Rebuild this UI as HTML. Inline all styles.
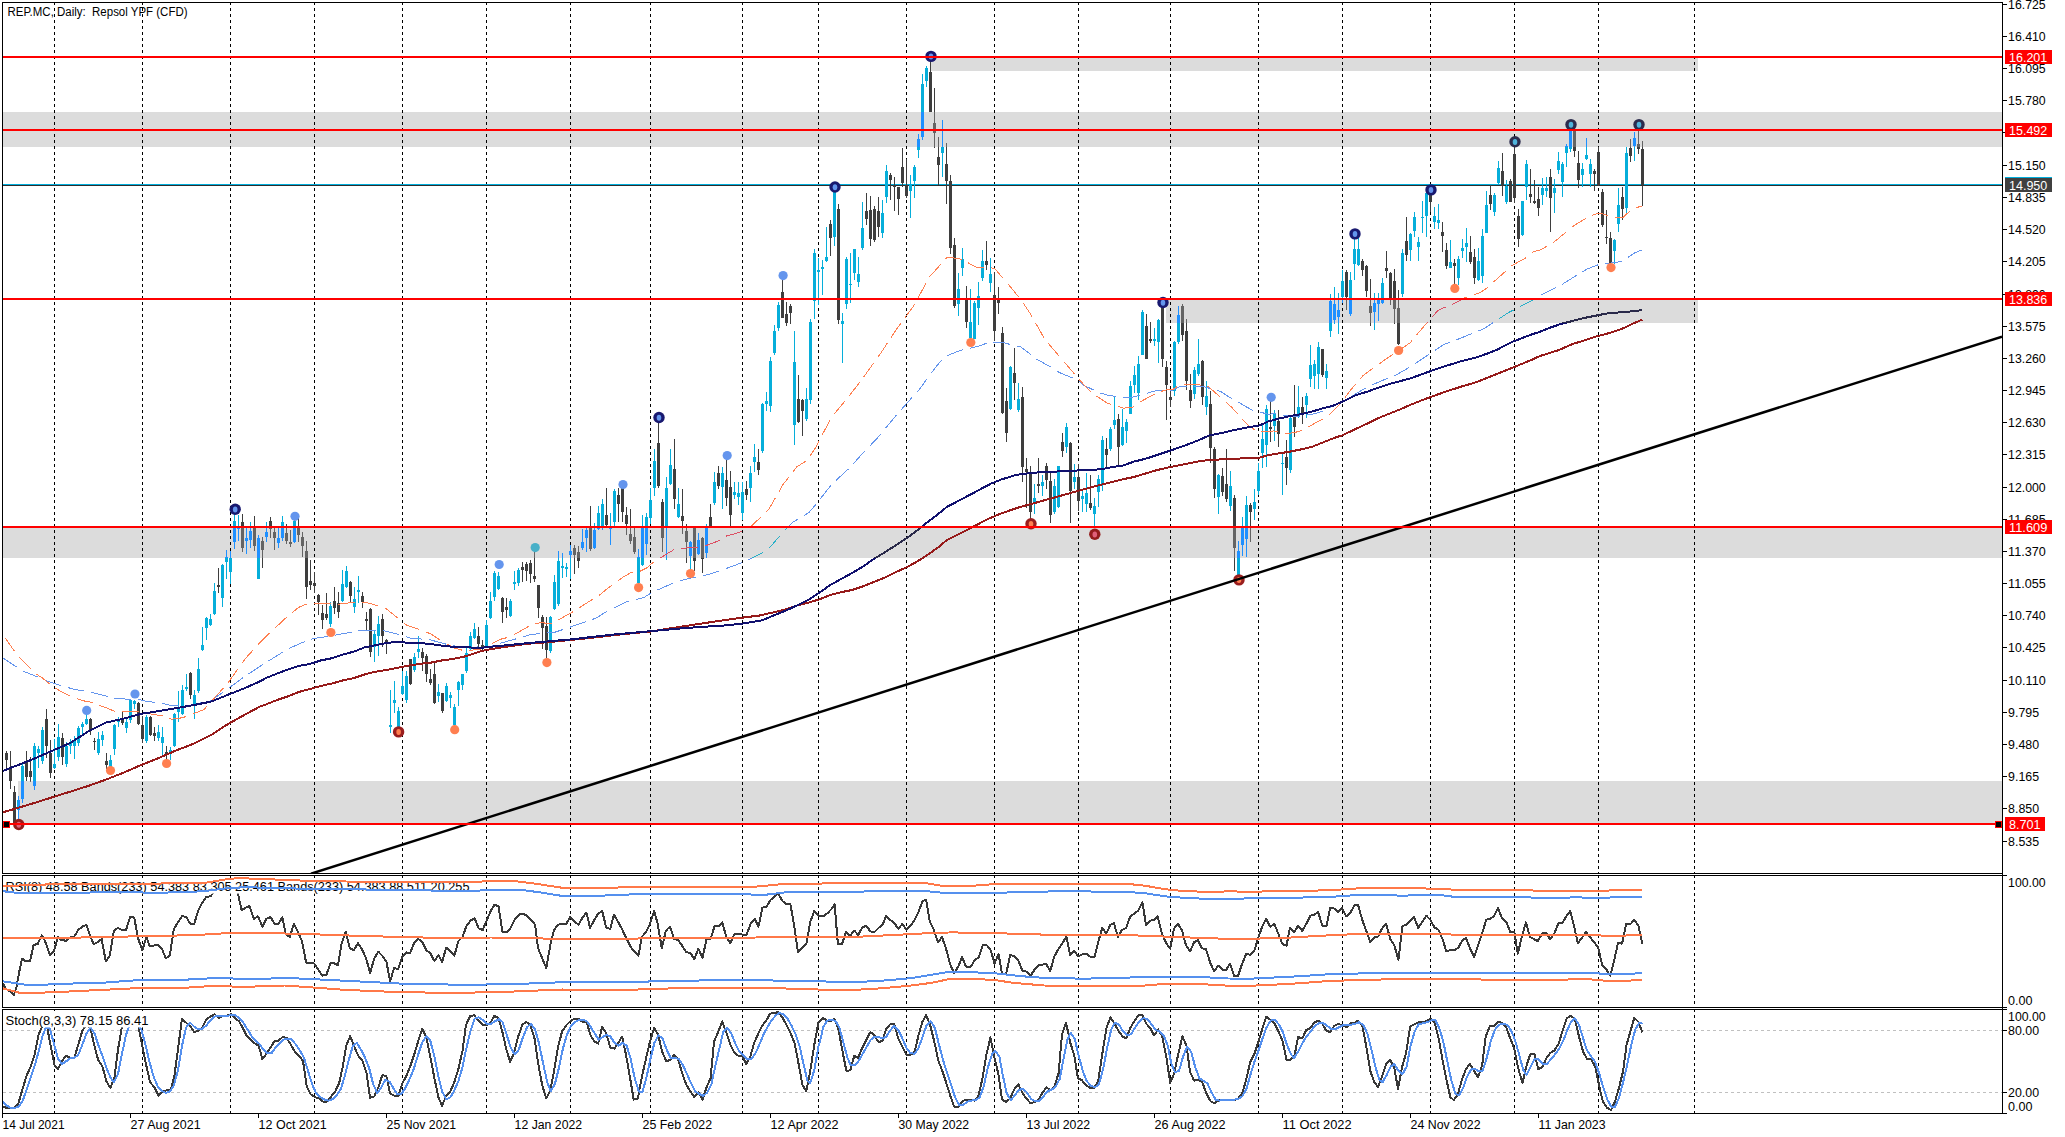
<!DOCTYPE html>
<html><head><meta charset="utf-8"><title>REP.MC Daily</title>
<style>html,body{margin:0;padding:0;background:#fff;overflow:hidden}svg{display:block}</style>
</head><body>
<svg width="2065" height="1137" viewBox="0 0 2065 1137" font-family="'Liberation Sans', sans-serif" font-size="12">
<rect x="0" y="0" width="2065" height="1137" fill="#fff"/>
<g shape-rendering="crispEdges">
<rect x="931" y="57" width="767" height="14" fill="#DCDCDC"/>
<rect x="3" y="112" width="1999" height="35" fill="#DCDCDC"/>
<rect x="1166" y="299" width="532" height="24" fill="#DCDCDC"/>
<rect x="3" y="527" width="1999" height="31" fill="#DCDCDC"/>
<rect x="18" y="781" width="1984" height="43" fill="#DCDCDC"/>
</g>
<g shape-rendering="crispEdges" stroke="#000" stroke-width="1" stroke-dasharray="3 3">
<line x1="54.5" y1="2" x2="54.5" y2="873"/>
<line x1="54.5" y1="875" x2="54.5" y2="1007"/>
<line x1="54.5" y1="1009" x2="54.5" y2="1113"/>
<line x1="142.5" y1="2" x2="142.5" y2="873"/>
<line x1="142.5" y1="875" x2="142.5" y2="1007"/>
<line x1="142.5" y1="1009" x2="142.5" y2="1113"/>
<line x1="230.5" y1="2" x2="230.5" y2="873"/>
<line x1="230.5" y1="875" x2="230.5" y2="1007"/>
<line x1="230.5" y1="1009" x2="230.5" y2="1113"/>
<line x1="314.5" y1="2" x2="314.5" y2="873"/>
<line x1="314.5" y1="875" x2="314.5" y2="1007"/>
<line x1="314.5" y1="1009" x2="314.5" y2="1113"/>
<line x1="402.5" y1="2" x2="402.5" y2="873"/>
<line x1="402.5" y1="875" x2="402.5" y2="1007"/>
<line x1="402.5" y1="1009" x2="402.5" y2="1113"/>
<line x1="486.5" y1="2" x2="486.5" y2="873"/>
<line x1="486.5" y1="875" x2="486.5" y2="1007"/>
<line x1="486.5" y1="1009" x2="486.5" y2="1113"/>
<line x1="570.5" y1="2" x2="570.5" y2="873"/>
<line x1="570.5" y1="875" x2="570.5" y2="1007"/>
<line x1="570.5" y1="1009" x2="570.5" y2="1113"/>
<line x1="650.5" y1="2" x2="650.5" y2="873"/>
<line x1="650.5" y1="875" x2="650.5" y2="1007"/>
<line x1="650.5" y1="1009" x2="650.5" y2="1113"/>
<line x1="742.5" y1="2" x2="742.5" y2="873"/>
<line x1="742.5" y1="875" x2="742.5" y2="1007"/>
<line x1="742.5" y1="1009" x2="742.5" y2="1113"/>
<line x1="818.5" y1="2" x2="818.5" y2="873"/>
<line x1="818.5" y1="875" x2="818.5" y2="1007"/>
<line x1="818.5" y1="1009" x2="818.5" y2="1113"/>
<line x1="906.5" y1="2" x2="906.5" y2="873"/>
<line x1="906.5" y1="875" x2="906.5" y2="1007"/>
<line x1="906.5" y1="1009" x2="906.5" y2="1113"/>
<line x1="994.5" y1="2" x2="994.5" y2="873"/>
<line x1="994.5" y1="875" x2="994.5" y2="1007"/>
<line x1="994.5" y1="1009" x2="994.5" y2="1113"/>
<line x1="1078.5" y1="2" x2="1078.5" y2="873"/>
<line x1="1078.5" y1="875" x2="1078.5" y2="1007"/>
<line x1="1078.5" y1="1009" x2="1078.5" y2="1113"/>
<line x1="1170.5" y1="2" x2="1170.5" y2="873"/>
<line x1="1170.5" y1="875" x2="1170.5" y2="1007"/>
<line x1="1170.5" y1="1009" x2="1170.5" y2="1113"/>
<line x1="1258.5" y1="2" x2="1258.5" y2="873"/>
<line x1="1258.5" y1="875" x2="1258.5" y2="1007"/>
<line x1="1258.5" y1="1009" x2="1258.5" y2="1113"/>
<line x1="1342.5" y1="2" x2="1342.5" y2="873"/>
<line x1="1342.5" y1="875" x2="1342.5" y2="1007"/>
<line x1="1342.5" y1="1009" x2="1342.5" y2="1113"/>
<line x1="1430.5" y1="2" x2="1430.5" y2="873"/>
<line x1="1430.5" y1="875" x2="1430.5" y2="1007"/>
<line x1="1430.5" y1="1009" x2="1430.5" y2="1113"/>
<line x1="1514.5" y1="2" x2="1514.5" y2="873"/>
<line x1="1514.5" y1="875" x2="1514.5" y2="1007"/>
<line x1="1514.5" y1="1009" x2="1514.5" y2="1113"/>
<line x1="1598.5" y1="2" x2="1598.5" y2="873"/>
<line x1="1598.5" y1="875" x2="1598.5" y2="1007"/>
<line x1="1598.5" y1="1009" x2="1598.5" y2="1113"/>
<line x1="1694.5" y1="2" x2="1694.5" y2="873"/>
<line x1="1694.5" y1="875" x2="1694.5" y2="1007"/>
<line x1="1694.5" y1="1009" x2="1694.5" y2="1113"/>
</g>
<g shape-rendering="crispEdges">
<rect x="3" y="184" width="1999" height="1" fill="#00AEDC"/>
<rect x="3" y="185" width="1999" height="1" fill="#2E2E2E"/>
</g>
<defs><clipPath id="zc">
<rect x="931" y="57" width="767" height="14"/>
<rect x="3" y="112" width="1999" height="35"/>
<rect x="1166" y="299" width="532" height="24"/>
<rect x="3" y="527" width="1999" height="31"/>
<rect x="18" y="781" width="1984" height="43"/>
</clipPath><clipPath id="mc"><rect x="3" y="3" width="1999" height="870"/></clipPath></defs>
<g clip-path="url(#mc)">
<g shape-rendering="crispEdges">
<path fill="#06AEDA" d="M18 796h1v29h-1zM17 800h3v10h-3zM22 763h1v40h-1zM21 766h3v33h-3zM34 743h1v47h-1zM33 746h3v40h-3zM38 746h1v22h-1zM37 749h3v4h-3zM42 727h1v37h-1zM41 730h3v31h-3zM54 739h1v30h-1zM53 764h3v4h-3zM58 724h1v37h-1zM57 737h3v20h-3zM66 742h1v25h-1zM65 746h3v18h-3zM70 739h1v15h-1zM69 742h3v4h-3zM74 736h1v23h-1zM73 740h3v6h-3zM78 726h1v20h-1zM77 728h3v15h-3zM82 722h1v13h-1zM81 724h3v3h-3zM86 714h1v11h-1zM85 719h3v5h-3zM98 732h1v23h-1zM97 739h3v14h-3zM102 731h1v15h-1zM101 735h3v5h-3zM110 755h1v12h-1zM109 760h3v7h-3zM114 724h1v31h-1zM113 725h3v24h-3zM118 717h1v10h-1zM117 721h3v1h-3zM126 717h1v16h-1zM125 722h3v6h-3zM130 699h1v24h-1zM129 700h3v20h-3zM134 700h1v9h-1zM133 701h3v3h-3zM146 715h1v28h-1zM145 717h3v24h-3zM158 725h1v16h-1zM157 732h3v6h-3zM162 727h1v28h-1zM161 737h3v6h-3zM170 747h1v13h-1zM169 750h3v3h-3zM174 713h1v34h-1zM173 714h3v32h-3zM178 691h1v31h-1zM177 708h3v4h-3zM182 685h1v30h-1zM181 690h3v24h-3zM186 674h1v17h-1zM185 687h3v2h-3zM194 690h1v29h-1zM193 695h3v11h-3zM198 658h1v35h-1zM197 669h3v22h-3zM202 627h1v24h-1zM201 645h3v5h-3zM206 617h1v23h-1zM205 618h3v10h-3zM210 614h1v12h-1zM209 619h3v6h-3zM214 583h1v32h-1zM213 591h3v23h-3zM222 564h1v43h-1zM221 565h3v33h-3zM226 550h1v29h-1zM225 557h3v5h-3zM230 551h1v33h-1zM229 558h3v14h-3zM234 514h1v35h-1zM233 521h3v21h-3zM238 515h1v26h-1zM237 527h3v2h-3zM246 526h1v28h-1zM245 538h3v3h-3zM250 522h1v26h-1zM249 531h3v9h-3zM258 535h1v44h-1zM257 538h3v41h-3zM266 522h1v20h-1zM265 532h3v5h-3zM278 528h1v20h-1zM277 538h3v5h-3zM282 516h1v25h-1zM281 522h3v16h-3zM294 520h1v23h-1zM293 521h3v21h-3zM330 602h1v25h-1zM329 606h3v18h-3zM342 570h1v32h-1zM341 584h3v17h-3zM346 566h1v22h-1zM345 571h3v16h-3zM354 587h1v26h-1zM353 599h3v8h-3zM358 576h1v27h-1zM357 590h3v2h-3zM374 630h1v32h-1zM373 634h3v13h-3zM378 616h1v40h-1zM377 624h3v12h-3zM390 690h1v43h-1zM389 725h3v2h-3zM394 681h1v32h-1zM393 700h3v3h-3zM398 707h1v21h-1zM397 711h3v16h-3zM402 671h1v24h-1zM401 686h3v8h-3zM406 671h1v32h-1zM405 676h3v24h-3zM414 653h1v19h-1zM413 657h3v13h-3zM418 636h1v22h-1zM417 649h3v3h-3zM438 684h1v18h-1zM437 692h3v4h-3zM446 683h1v19h-1zM445 686h3v15h-3zM450 692h1v16h-1zM449 695h3v3h-3zM454 704h1v22h-1zM453 707h3v18h-3zM458 681h1v25h-1zM457 682h3v8h-3zM462 674h1v16h-1zM461 674h3v11h-3zM466 647h1v26h-1zM465 653h3v18h-3zM470 632h1v18h-1zM469 636h3v13h-3zM474 623h1v16h-1zM473 629h3v9h-3zM486 620h1v28h-1zM485 625h3v22h-3zM490 592h1v27h-1zM489 601h3v17h-3zM494 571h1v30h-1zM493 573h3v24h-3zM498 572h1v18h-1zM497 576h3v13h-3zM510 599h1v18h-1zM509 601h3v15h-3zM514 571h1v19h-1zM513 582h3v2h-3zM518 568h1v18h-1zM517 570h3v13h-3zM550 616h1v37h-1zM549 617h3v34h-3zM554 575h1v35h-1zM553 582h3v27h-3zM558 551h1v55h-1zM557 561h3v43h-3zM562 553h1v25h-1zM561 566h3v2h-3zM566 563h1v14h-1zM565 567h3v2h-3zM570 545h1v34h-1zM569 551h3v4h-3zM582 529h1v21h-1zM581 542h3v6h-3zM586 528h1v24h-1zM585 530h3v8h-3zM594 523h1v26h-1zM593 530h3v18h-3zM598 506h1v24h-1zM597 513h3v16h-3zM602 499h1v31h-1zM601 504h3v22h-3zM610 513h1v32h-1zM609 527h3v2h-3zM614 489h1v37h-1zM613 491h3v31h-3zM638 549h1v35h-1zM637 557h3v26h-3zM642 515h1v51h-1zM641 527h3v38h-3zM646 513h1v42h-1zM645 517h3v27h-3zM650 488h1v36h-1zM649 500h3v18h-3zM654 449h1v47h-1zM653 461h3v27h-3zM666 477h1v83h-1zM665 488h3v38h-3zM670 449h1v36h-1zM669 465h3v19h-3zM678 488h1v30h-1zM677 504h3v13h-3zM690 541h1v31h-1zM689 542h3v14h-3zM698 533h1v22h-1zM697 540h3v14h-3zM706 524h1v34h-1zM705 526h3v27h-3zM714 472h1v33h-1zM713 482h3v21h-3zM722 467h1v42h-1zM721 473h3v14h-3zM734 482h1v17h-1zM733 492h3v3h-3zM738 482h1v23h-1zM737 493h3v4h-3zM742 482h1v38h-1zM741 492h3v21h-3zM750 466h1v36h-1zM749 473h3v15h-3zM754 444h1v28h-1zM753 457h3v5h-3zM762 403h1v50h-1zM761 404h3v47h-3zM766 392h1v19h-1zM765 401h3v3h-3zM770 357h1v55h-1zM769 361h3v45h-3zM774 325h1v30h-1zM773 331h3v22h-3zM778 302h1v29h-1zM777 305h3v23h-3zM794 331h1v114h-1zM793 362h3v63h-3zM806 388h1v33h-1zM805 399h3v20h-3zM810 319h1v85h-1zM809 322h3v78h-3zM814 249h1v70h-1zM813 253h3v48h-3zM818 258h1v47h-1zM817 270h3v2h-3zM822 260h1v35h-1zM821 267h3v2h-3zM826 227h1v35h-1zM825 257h3v4h-3zM834 190h1v56h-1zM833 191h3v46h-3zM842 313h1v50h-1zM841 321h3v3h-3zM846 257h1v52h-1zM845 259h3v45h-3zM850 253h1v50h-1zM849 284h3v1h-3zM854 249h1v31h-1zM853 249h3v24h-3zM858 257h1v30h-1zM857 274h3v8h-3zM862 202h1v48h-1zM861 228h3v20h-3zM882 200h1v38h-1zM881 213h3v20h-3zM886 165h1v38h-1zM885 171h3v26h-3zM910 175h1v43h-1zM909 185h3v6h-3zM914 165h1v33h-1zM913 167h3v14h-3zM918 134h1v24h-1zM917 139h3v11h-3zM922 74h1v66h-1zM921 84h3v53h-3zM926 66h1v21h-1zM925 68h3v13h-3zM942 120h1v57h-1zM941 147h3v6h-3zM958 273h1v43h-1zM957 289h3v15h-3zM962 248h1v28h-1zM961 259h3v9h-3zM970 289h1v50h-1zM969 322h3v16h-3zM974 301h1v38h-1zM973 303h3v36h-3zM978 282h1v43h-1zM977 296h3v12h-3zM982 250h1v31h-1zM981 261h3v17h-3zM990 258h1v34h-1zM989 274h3v9h-3zM1010 366h1v44h-1zM1009 367h3v42h-3zM1018 383h1v29h-1zM1017 399h3v11h-3zM1034 484h1v30h-1zM1033 498h3v6h-3zM1042 475h1v21h-1zM1041 482h3v4h-3zM1054 479h1v35h-1zM1053 486h3v26h-3zM1058 466h1v42h-1zM1057 466h3v41h-3zM1066 423h1v30h-1zM1065 427h3v20h-3zM1074 464h1v25h-1zM1073 477h3v5h-3zM1082 490h1v22h-1zM1081 496h3v3h-3zM1086 473h1v39h-1zM1085 493h3v11h-3zM1094 498h1v30h-1zM1093 506h3v8h-3zM1098 475h1v32h-1zM1097 479h3v13h-3zM1102 436h1v55h-1zM1101 440h3v45h-3zM1110 427h1v24h-1zM1109 429h3v20h-3zM1114 396h1v33h-1zM1113 420h3v5h-3zM1122 409h1v37h-1zM1121 427h3v18h-3zM1126 419h1v24h-1zM1125 422h3v9h-3zM1130 381h1v33h-1zM1129 386h3v28h-3zM1134 366h1v27h-1zM1133 375h3v10h-3zM1138 356h1v44h-1zM1137 364h3v29h-3zM1142 310h1v45h-1zM1141 312h3v43h-3zM1154 328h1v18h-1zM1153 339h3v2h-3zM1158 319h1v44h-1zM1157 320h3v22h-3zM1174 341h1v55h-1zM1173 342h3v49h-3zM1178 306h1v38h-1zM1177 315h3v27h-3zM1194 367h1v32h-1zM1193 370h3v24h-3zM1198 339h1v37h-1zM1197 364h3v10h-3zM1206 381h1v34h-1zM1205 396h3v11h-3zM1218 474h1v40h-1zM1217 475h3v22h-3zM1230 471h1v40h-1zM1229 486h3v20h-3zM1238 541h1v37h-1zM1237 551h3v26h-3zM1242 517h1v39h-1zM1241 528h3v17h-3zM1246 496h1v61h-1zM1245 505h3v34h-3zM1254 489h1v31h-1zM1253 502h3v7h-3zM1258 463h1v32h-1zM1257 471h3v20h-3zM1262 423h1v45h-1zM1261 439h3v14h-3zM1266 405h1v62h-1zM1265 409h3v36h-3zM1274 410h1v31h-1zM1273 414h3v12h-3zM1282 452h1v43h-1zM1281 463h3v1h-3zM1290 417h1v56h-1zM1289 418h3v52h-3zM1298 386h1v32h-1zM1297 407h3v9h-3zM1306 393h1v25h-1zM1305 396h3v9h-3zM1310 345h1v42h-1zM1309 365h3v14h-3zM1314 360h1v29h-1zM1313 364h3v12h-3zM1318 342h1v47h-1zM1317 347h3v27h-3zM1326 364h1v25h-1zM1325 371h3v7h-3zM1330 294h1v43h-1zM1329 301h3v30h-3zM1334 287h1v37h-1zM1333 304h3v16h-3zM1338 293h1v41h-1zM1337 310h3v7h-3zM1342 270h1v33h-1zM1341 281h3v16h-3zM1350 272h1v44h-1zM1349 280h3v34h-3zM1354 239h1v41h-1zM1353 249h3v15h-3zM1358 238h1v28h-1zM1357 249h3v16h-3zM1374 293h1v37h-1zM1373 303h3v9h-3zM1378 293h1v28h-1zM1377 300h3v4h-3zM1382 278h1v26h-1zM1381 283h3v20h-3zM1402 249h1v48h-1zM1401 253h3v41h-3zM1410 233h1v28h-1zM1409 234h3v16h-3zM1414 212h1v25h-1zM1413 217h3v14h-3zM1418 237h1v24h-1zM1417 242h3v5h-3zM1422 201h1v32h-1zM1421 217h3v1h-3zM1426 191h1v46h-1zM1425 193h3v23h-3zM1434 207h1v22h-1zM1433 216h3v6h-3zM1438 204h1v25h-1zM1437 220h3v3h-3zM1450 240h1v28h-1zM1449 262h3v6h-3zM1458 256h1v29h-1zM1457 259h3v19h-3zM1462 239h1v19h-1zM1461 248h3v3h-3zM1466 228h1v34h-1zM1465 243h3v4h-3zM1478 248h1v33h-1zM1477 261h3v19h-3zM1482 229h1v54h-1zM1481 236h3v40h-3zM1486 191h1v42h-1zM1485 205h3v28h-3zM1494 193h1v23h-1zM1493 195h3v17h-3zM1498 161h1v23h-1zM1497 168h3v15h-3zM1506 180h1v24h-1zM1505 186h3v16h-3zM1522 201h1v35h-1zM1521 201h3v34h-3zM1526 160h1v40h-1zM1525 164h3v23h-3zM1542 178h1v27h-1zM1541 188h3v7h-3zM1546 177h1v20h-1zM1545 188h3v3h-3zM1554 179h1v34h-1zM1553 188h3v5h-3zM1558 152h1v22h-1zM1557 161h3v9h-3zM1562 162h1v35h-1zM1561 164h3v18h-3zM1566 144h1v23h-1zM1565 146h3v7h-3zM1570 130h1v22h-1zM1569 131h3v18h-3zM1582 163h1v24h-1zM1581 169h3v6h-3zM1586 138h1v22h-1zM1585 155h3v4h-3zM1590 159h1v28h-1zM1589 164h3v10h-3zM1614 239h1v25h-1zM1613 240h3v11h-3zM1618 188h1v44h-1zM1617 205h3v19h-3zM1626 147h1v67h-1zM1625 153h3v55h-3zM1634 132h1v29h-1zM1633 138h3v8h-3z"/>
<path fill="#3E3E3E" d="M6 751h1v20h-1zM5 753h3v7h-3zM10 751h1v38h-1zM9 768h3v13h-3zM14 786h1v38h-1zM13 792h3v31h-3zM26 751h1v30h-1zM25 761h3v16h-3zM30 757h1v25h-1zM29 771h3v6h-3zM46 709h1v49h-1zM45 719h3v27h-3zM50 740h1v38h-1zM49 753h3v20h-3zM62 733h1v32h-1zM61 738h3v19h-3zM90 718h1v17h-1zM89 719h3v12h-3zM94 738h1v12h-1zM93 741h3v1h-3zM106 753h1v16h-1zM105 761h3v4h-3zM122 712h1v13h-1zM121 718h3v5h-3zM138 702h1v23h-1zM137 703h3v21h-3zM142 716h1v27h-1zM141 725h3v14h-3zM150 716h1v20h-1zM149 717h3v18h-3zM154 727h1v14h-1zM153 733h3v3h-3zM166 746h1v14h-1zM165 752h3v2h-3zM190 672h1v27h-1zM189 673h3v22h-3zM218 568h1v25h-1zM217 585h3v2h-3zM242 514h1v38h-1zM241 522h3v26h-3zM254 516h1v35h-1zM253 527h3v19h-3zM262 537h1v31h-1zM261 541h3v9h-3zM270 517h1v21h-1zM269 521h3v8h-3zM274 528h1v22h-1zM273 532h3v6h-3zM286 524h1v20h-1zM285 533h3v8h-3zM290 530h1v17h-1zM289 542h3v2h-3zM298 518h1v24h-1zM297 528h3v7h-3zM302 532h1v25h-1zM301 537h3v9h-3zM306 541h1v58h-1zM305 551h3v36h-3zM310 560h1v30h-1zM309 581h3v4h-3zM314 572h1v21h-1zM313 583h3v3h-3zM318 594h1v21h-1zM317 595h3v7h-3zM322 605h1v24h-1zM321 613h3v7h-3zM326 593h1v27h-1zM325 614h3v4h-3zM334 587h1v27h-1zM333 601h3v7h-3zM338 592h1v26h-1zM337 603h3v9h-3zM350 581h1v22h-1zM349 582h3v14h-3zM362 592h1v16h-1zM361 596h3v6h-3zM366 612h1v19h-1zM365 619h3v2h-3zM370 608h1v49h-1zM369 609h3v43h-3zM382 614h1v33h-1zM381 619h3v17h-3zM386 639h1v15h-1zM385 640h3v2h-3zM410 659h1v26h-1zM409 659h3v25h-3zM422 648h1v23h-1zM421 652h3v6h-3zM426 654h1v28h-1zM425 656h3v18h-3zM430 669h1v16h-1zM429 679h3v4h-3zM434 662h1v42h-1zM433 674h3v29h-3zM442 693h1v20h-1zM441 693h3v18h-3zM478 627h1v23h-1zM477 636h3v8h-3zM482 640h1v11h-1zM481 645h3v2h-3zM502 597h1v26h-1zM501 598h3v14h-3zM506 598h1v20h-1zM505 607h3v3h-3zM522 562h1v20h-1zM521 567h3v3h-3zM526 562h1v19h-1zM525 564h3v7h-3zM530 560h1v23h-1zM529 563h3v11h-3zM534 550h1v32h-1zM533 576h3v3h-3zM538 585h1v33h-1zM537 585h3v23h-3zM542 615h1v34h-1zM541 617h3v11h-3zM546 617h1v41h-1zM545 626h3v24h-3zM574 545h1v29h-1zM573 548h3v7h-3zM578 546h1v22h-1zM577 552h3v9h-3zM590 506h1v45h-1zM589 527h3v22h-3zM606 488h1v38h-1zM605 515h3v10h-3zM618 488h1v34h-1zM617 495h3v9h-3zM622 486h1v36h-1zM621 488h3v24h-3zM626 507h1v28h-1zM625 515h3v9h-3zM630 509h1v35h-1zM629 534h3v7h-3zM634 526h1v28h-1zM633 537h3v15h-3zM658 423h1v65h-1zM657 443h3v43h-3zM662 499h1v53h-1zM661 502h3v36h-3zM674 439h1v70h-1zM673 469h3v30h-3zM682 489h1v45h-1zM681 516h3v5h-3zM686 524h1v39h-1zM685 531h3v11h-3zM694 526h1v45h-1zM693 528h3v33h-3zM702 537h1v36h-1zM701 538h3v21h-3zM710 504h1v23h-1zM709 517h3v9h-3zM718 466h1v23h-1zM717 473h3v13h-3zM726 460h1v46h-1zM725 480h3v18h-3zM730 471h1v55h-1zM729 487h3v28h-3zM746 481h1v19h-1zM745 489h3v6h-3zM758 449h1v26h-1zM757 462h3v8h-3zM782 280h1v38h-1zM781 292h3v26h-3zM786 302h1v24h-1zM785 314h3v9h-3zM790 304h1v20h-1zM789 306h3v7h-3zM798 375h1v48h-1zM797 399h3v23h-3zM802 399h1v37h-1zM801 400h3v11h-3zM830 220h1v36h-1zM829 224h3v14h-3zM838 204h1v120h-1zM837 209h3v111h-3zM866 193h1v32h-1zM865 211h3v8h-3zM870 196h1v50h-1zM869 210h3v29h-3zM874 206h1v36h-1zM873 209h3v31h-3zM878 197h1v40h-1zM877 211h3v16h-3zM890 173h1v27h-1zM889 175h3v5h-3zM894 177h1v34h-1zM893 185h3v2h-3zM898 187h1v28h-1zM897 187h3v12h-3zM902 148h1v39h-1zM901 167h3v16h-3zM906 159h1v39h-1zM905 185h3v11h-3zM930 59h1v53h-1zM929 72h3v40h-3zM934 88h1v60h-1zM933 123h3v10h-3zM938 137h1v48h-1zM937 157h3v8h-3zM946 143h1v61h-1zM945 164h3v17h-3zM950 175h1v79h-1zM949 181h3v67h-3zM954 238h1v70h-1zM953 245h3v61h-3zM966 286h1v42h-1zM965 300h3v22h-3zM986 241h1v29h-1zM985 261h3v4h-3zM994 272h1v69h-1zM993 295h3v36h-3zM998 287h1v27h-1zM997 298h3v5h-3zM1002 327h1v87h-1zM1001 333h3v80h-3zM1006 388h1v54h-1zM1005 401h3v32h-3zM1014 348h1v52h-1zM1013 373h3v10h-3zM1022 387h1v95h-1zM1021 397h3v70h-3zM1026 458h1v50h-1zM1025 469h3v3h-3zM1030 466h1v53h-1zM1029 474h3v38h-3zM1038 458h1v35h-1zM1037 484h3v2h-3zM1046 463h1v26h-1zM1045 466h3v14h-3zM1050 471h1v52h-1zM1049 481h3v34h-3zM1062 433h1v24h-1zM1061 442h3v9h-3zM1070 442h1v81h-1zM1069 443h3v48h-3zM1078 464h1v47h-1zM1077 477h3v24h-3zM1090 475h1v35h-1zM1089 503h3v5h-3zM1106 438h1v31h-1zM1105 449h3v6h-3zM1118 414h1v51h-1zM1117 419h3v28h-3zM1146 314h1v45h-1zM1145 326h3v33h-3zM1150 322h1v21h-1zM1149 339h3v2h-3zM1162 298h1v69h-1zM1161 305h3v54h-3zM1166 361h1v59h-1zM1165 367h3v18h-3zM1170 389h1v18h-1zM1169 397h3v3h-3zM1182 304h1v37h-1zM1181 306h3v29h-3zM1186 319h1v71h-1zM1185 331h3v50h-3zM1190 374h1v34h-1zM1189 390h3v11h-3zM1202 360h1v45h-1zM1201 361h3v36h-3zM1210 391h1v72h-1zM1209 404h3v44h-3zM1214 447h1v51h-1zM1213 449h3v40h-3zM1222 468h1v28h-1zM1221 476h3v16h-3zM1226 449h1v53h-1zM1225 484h3v15h-3zM1234 495h1v76h-1zM1233 498h3v50h-3zM1250 503h1v39h-1zM1249 505h3v7h-3zM1270 401h1v41h-1zM1269 427h3v2h-3zM1278 410h1v37h-1zM1277 421h3v13h-3zM1286 440h1v45h-1zM1285 457h3v11h-3zM1294 385h1v52h-1zM1293 414h3v13h-3zM1302 397h1v27h-1zM1301 407h3v7h-3zM1322 349h1v28h-1zM1321 349h3v26h-3zM1346 270h1v40h-1zM1345 272h3v25h-3zM1362 259h1v17h-1zM1361 261h3v9h-3zM1366 265h1v32h-1zM1365 266h3v25h-3zM1370 279h1v47h-1zM1369 306h3v7h-3zM1386 251h1v27h-1zM1385 268h3v3h-3zM1390 272h1v33h-1zM1389 273h3v27h-3zM1394 269h1v55h-1zM1393 281h3v28h-3zM1398 290h1v55h-1zM1397 308h3v36h-3zM1406 217h1v44h-1zM1405 241h3v14h-3zM1430 187h1v25h-1zM1429 192h3v10h-3zM1442 222h1v30h-1zM1441 232h3v4h-3zM1446 243h1v26h-1zM1445 250h3v16h-3zM1454 259h1v27h-1zM1453 263h3v3h-3zM1470 236h1v28h-1zM1469 252h3v10h-3zM1474 249h1v35h-1zM1473 257h3v21h-3zM1490 185h1v25h-1zM1489 195h3v9h-3zM1502 153h1v43h-1zM1501 171h3v15h-3zM1510 179h1v23h-1zM1509 181h3v21h-3zM1514 147h1v56h-1zM1513 154h3v44h-3zM1518 209h1v38h-1zM1517 216h3v23h-3zM1530 169h1v34h-1zM1529 194h3v3h-3zM1534 180h1v24h-1zM1533 201h3v2h-3zM1538 187h1v29h-1zM1537 199h3v9h-3zM1550 169h1v63h-1zM1549 177h3v21h-3zM1574 131h1v26h-1zM1573 131h3v20h-3zM1578 151h1v37h-1zM1577 163h3v17h-3zM1594 169h1v22h-1zM1593 171h3v3h-3zM1598 147h1v39h-1zM1597 152h3v33h-3zM1602 189h1v38h-1zM1601 192h3v33h-3zM1606 210h1v34h-1zM1605 237h3v1h-3zM1610 232h1v32h-1zM1609 238h3v25h-3zM1622 187h1v33h-1zM1621 197h3v12h-3zM1630 139h1v23h-1zM1629 148h3v8h-3zM1638 130h1v24h-1zM1637 144h3v5h-3zM1642 141h1v65h-1zM1641 149h3v36h-3z"/>
</g>
<polyline fill="none" stroke="#6495ED" stroke-width="1" stroke-dasharray="17 7" shape-rendering="crispEdges" points="2.6,657.6 19.3,669.0 26.4,672.5 42.2,678.7 50.1,682.2 67.7,687.5 73.9,689.3 91.5,692.4 98.5,694.2 114.3,698.0 121.4,698.9 139.0,699.5 146.0,701.2 163.6,703.7 170.6,705.4 186.5,706.0 211.1,700.7 235.7,683.1 242.7,677.8 260.0,666.4 266.0,662.6 283.6,651.6 290.2,647.9 307.8,640.2 314.4,638.4 332.0,635.8 340.8,634.0 360.6,630.6 380.4,630.3 387.0,631.4 403.5,635.8 410.1,638.0 430.4,639.9 452.4,645.9 475.0,646.8 486.4,647.7 504.0,642.2 523.8,636.7 530.4,634.5 548.0,632.9 554.6,632.3 571.1,626.8 578.8,624.1 596.4,618.0 603.0,613.6 620.6,604.8 627.2,601.5 643.7,597.7 651.4,592.7 667.9,585.4 674.5,582.3 691.0,577.9 698.7,577.3 719.0,571.2 740.0,563.4 746.2,561.0 763.8,552.2 770.4,546.7 785.8,529.1 792.4,522.5 808.9,512.6 815.5,504.9 832.0,484.0 851.8,465.9 858.4,458.0 877.6,437.8 897.4,413.9 918.9,389.9 937.0,365.5 945.3,356.4 956.3,352.0 962.9,349.8 980.0,345.8 987.7,342.8 1003.1,342.4 1011.9,345.0 1020.7,346.8 1028.4,352.7 1035.0,358.2 1052.6,368.1 1059.2,372.5 1076.8,379.7 1084.5,385.7 1099.9,392.9 1107.6,395.1 1124.1,397.8 1131.8,397.3 1148.3,392.9 1156.0,390.7 1172.5,390.1 1179.1,386.8 1196.7,386.3 1204.4,386.8 1220.9,391.6 1227.5,396.0 1244.0,405.5 1251.7,409.9 1260.0,412.1 1268.0,414.2 1274.6,413.8 1291.1,416.4 1298.8,416.4 1314.2,413.8 1323.0,411.2 1339.5,402.8 1347.2,398.8 1363.7,389.2 1371.4,385.2 1388.3,378.0 1395.4,375.3 1412.5,365.6 1419.1,361.0 1437.1,348.9 1443.7,344.5 1460.2,338.4 1467.9,335.1 1484.4,328.5 1491.0,324.1 1508.9,312.3 1515.0,309.4 1532.6,300.0 1539.5,295.9 1556.6,287.4 1563.2,283.7 1580.8,272.7 1587.4,268.9 1601.1,263.6 1614.9,262.8 1621.5,261.0 1628.1,257.3 1634.7,252.9 1641.9,250.0"/>
<polyline fill="none" stroke="#FF7F50" stroke-width="1" stroke-dasharray="17 7" shape-rendering="crispEdges" points="4.8,637.4 16.7,654.5 35.2,673.4 42.2,677.8 52.8,686.6 59.8,690.7 66.8,694.5 82.7,700.7 89.7,701.9 107.3,708.2 114.3,711.2 131.0,711.2 139.0,711.2 154.8,714.8 161.8,715.6 171.5,719.2 179.4,718.3 186.5,716.5 204.0,709.5 211.1,701.6 227.8,683.1 245.4,658.5 262.4,639.9 289.1,614.9 299.0,607.2 305.6,604.3 312.2,603.2 318.8,603.4 337.5,604.3 354.0,602.3 365.0,602.2 384.8,607.6 398.0,618.2 406.8,625.2 420.0,629.6 431.0,634.0 442.0,641.3 454.1,647.9 461.8,650.1 472.8,650.1 482.0,648.8 490.8,644.4 499.6,639.5 510.6,636.7 530.9,625.1 541.4,622.4 549.6,624.0 557.9,620.2 575.5,610.3 582.1,605.9 599.7,594.9 606.3,589.4 623.9,576.6 630.5,572.9 638.2,572.2 647.0,567.8 653.6,561.9 675.0,549.0 695.4,547.1 702.0,547.1 719.6,540.5 726.2,536.1 740.0,532.2 751.7,525.8 768.7,509.5 782.5,485.3 796.8,466.8 807.2,460.3 815.5,447.7 831.4,417.4 845.2,400.8 861.1,380.6 881.5,352.0 896.4,329.3 914.7,304.4 929.0,277.4 946.6,257.8 953.2,257.8 962.0,259.3 970.8,264.4 977.4,267.7 988.4,267.0 995.0,268.8 1013.0,290.0 1021.8,301.0 1030.6,314.2 1044.9,339.5 1064.7,362.6 1085.6,386.8 1092.2,393.4 1107.6,403.3 1115.3,405.5 1123.0,408.1 1131.8,407.7 1139.5,402.2 1153.8,394.5 1164.8,390.1 1173.6,389.0 1180.2,384.6 1186.8,384.1 1207.1,385.5 1231.3,406.9 1247.3,424.6 1257.5,431.9 1273.5,431.0 1280.1,431.8 1287.8,433.6 1297.7,431.8 1304.3,429.2 1321.9,419.3 1328.5,415.6 1342.8,401.0 1349.4,391.4 1362.6,376.0 1370.3,370.2 1387.9,357.7 1394.2,353.8 1410.7,342.3 1417.3,334.0 1431.6,317.5 1438.2,310.2 1455.8,302.7 1464.6,297.7 1480.0,292.6 1486.6,288.2 1503.1,273.5 1511.3,266.0 1526.5,257.4 1533.1,251.9 1540.0,250.0 1551.1,244.1 1557.7,239.0 1574.2,225.4 1580.8,221.4 1591.8,215.5 1598.4,213.3 1605.0,214.4 1611.6,217.7 1622.6,217.7 1629.2,211.7 1635.8,207.8 1641.9,206.0"/>
<polyline fill="none" stroke="#961A1A" stroke-width="2" stroke-linejoin="round" shape-rendering="crispEdges" points="2.6,812.4 17.6,808.0 35.2,802.7 52.8,797.1 70.4,791.6 88.0,786.0 105.5,779.8 123.1,772.8 140.7,765.2 158.3,758.2 175.9,750.5 193.5,743.8 211.1,735.0 228.7,723.6 246.3,713.9 260.0,706.5 266.0,704.4 277.0,700.0 288.0,696.3 299.0,691.9 310.0,689.0 321.0,685.9 332.0,683.5 343.0,680.4 354.0,678.0 365.0,674.3 376.0,671.6 387.0,669.9 398.0,667.7 409.0,665.5 420.0,663.9 431.0,662.6 442.0,660.4 453.0,658.9 464.0,656.7 480.0,651.6 486.4,649.9 504.0,647.0 526.0,643.9 548.0,642.2 570.0,640.0 592.0,637.8 614.0,635.1 636.0,632.9 650.5,631.6 680.0,626.8 702.0,623.5 720.0,620.8 742.0,617.7 759.6,615.5 775.0,612.0 786.0,609.4 797.0,605.4 808.0,602.8 819.0,599.5 830.0,595.1 841.0,592.2 852.0,590.0 863.0,586.3 874.0,581.9 885.0,577.5 896.0,572.0 907.0,567.1 918.0,561.0 929.0,553.9 940.0,546.0 946.6,540.1 962.0,532.4 973.0,526.9 984.0,521.0 991.0,517.7 1001.0,513.5 1017.4,507.8 1035.0,502.9 1057.0,496.8 1079.0,490.6 1101.0,484.7 1123.0,479.2 1134.0,477.0 1145.0,473.7 1156.0,470.4 1167.0,467.7 1178.0,465.5 1189.0,463.3 1200.0,461.1 1211.0,459.8 1222.0,459.4 1244.0,458.3 1260.0,457.6 1268.0,455.1 1279.0,453.4 1290.0,451.6 1301.0,449.4 1312.0,446.8 1323.0,442.4 1334.0,438.0 1342.3,435.3 1356.0,428.8 1367.0,423.7 1378.0,418.2 1389.0,413.8 1400.0,409.4 1411.0,404.6 1422.0,400.2 1433.0,396.2 1444.0,392.2 1462.3,386.3 1475.6,382.4 1486.6,378.0 1497.6,373.6 1511.5,368.1 1524.0,363.0 1532.8,359.3 1540.0,356.0 1558.8,350.1 1572.0,344.2 1583.0,340.9 1594.0,337.1 1607.2,333.6 1616.0,331.0 1624.8,327.7 1633.6,323.3 1642.4,319.5"/>
<polyline fill="none" stroke="#10106E" stroke-width="2" stroke-linejoin="round" shape-rendering="crispEdges" points="2.6,771.0 17.6,765.2 35.2,758.2 52.8,750.5 70.4,742.9 88.0,731.5 105.5,722.7 123.1,718.8 140.7,713.9 158.3,711.2 175.9,708.2 193.5,705.1 211.1,701.6 228.7,694.5 246.3,687.5 260.0,681.3 266.0,678.0 277.0,673.6 288.0,669.4 299.0,665.9 310.0,663.9 321.0,660.4 332.0,658.2 343.0,654.5 354.0,651.6 365.0,647.2 376.0,645.2 387.0,642.8 398.0,641.9 409.0,642.8 420.0,643.0 431.0,644.1 442.0,645.7 453.0,646.8 464.0,647.2 480.0,647.9 486.4,647.2 526.0,643.3 570.0,639.5 614.0,634.5 650.5,631.2 680.0,628.5 702.0,626.8 720.0,625.9 742.0,623.7 761.8,620.4 775.0,614.9 786.0,610.5 797.0,605.4 808.0,600.1 819.0,592.9 830.0,585.2 841.0,579.0 852.0,573.1 863.0,566.5 874.0,558.8 885.0,552.2 896.0,545.1 907.0,537.9 918.0,529.7 929.0,521.0 940.0,512.6 946.6,507.1 962.0,499.0 973.0,493.2 984.0,487.3 991.0,483.6 1001.0,479.6 1016.3,474.8 1035.0,472.6 1057.0,471.5 1079.0,470.4 1101.0,469.3 1112.0,467.1 1123.0,465.5 1134.0,461.6 1145.0,458.9 1156.0,455.4 1167.0,451.7 1178.0,447.9 1189.0,444.0 1200.0,439.6 1208.8,435.6 1222.0,433.0 1233.0,430.3 1244.0,428.1 1260.0,425.3 1268.0,421.5 1279.0,418.6 1290.0,416.0 1301.0,414.2 1312.0,411.6 1323.0,408.3 1334.0,405.4 1342.3,401.7 1356.0,395.1 1367.0,391.8 1378.0,387.8 1389.0,384.1 1400.0,381.2 1411.0,378.2 1422.0,374.2 1433.0,370.2 1444.0,366.5 1462.3,360.9 1475.6,357.7 1486.6,353.8 1497.6,349.4 1511.5,342.2 1524.0,337.3 1532.8,334.0 1540.0,331.8 1550.0,327.7 1561.0,323.9 1572.0,321.1 1583.0,318.2 1594.0,316.0 1607.2,313.4 1620.4,312.3 1633.6,311.2 1642.4,310.1"/>
<g clip-path="url(#zc)">
<g shape-rendering="crispEdges">
<path fill="#1E90FF" d="M18 796h1v29h-1zM17 800h3v10h-3zM22 763h1v40h-1zM21 766h3v33h-3zM34 743h1v47h-1zM33 746h3v40h-3zM38 746h1v22h-1zM37 749h3v4h-3zM42 727h1v37h-1zM41 730h3v31h-3zM54 739h1v30h-1zM53 764h3v4h-3zM58 724h1v37h-1zM57 737h3v20h-3zM66 742h1v25h-1zM65 746h3v18h-3zM70 739h1v15h-1zM69 742h3v4h-3zM74 736h1v23h-1zM73 740h3v6h-3zM78 726h1v20h-1zM77 728h3v15h-3zM82 722h1v13h-1zM81 724h3v3h-3zM86 714h1v11h-1zM85 719h3v5h-3zM98 732h1v23h-1zM97 739h3v14h-3zM102 731h1v15h-1zM101 735h3v5h-3zM110 755h1v12h-1zM109 760h3v7h-3zM114 724h1v31h-1zM113 725h3v24h-3zM118 717h1v10h-1zM117 721h3v1h-3zM126 717h1v16h-1zM125 722h3v6h-3zM130 699h1v24h-1zM129 700h3v20h-3zM134 700h1v9h-1zM133 701h3v3h-3zM146 715h1v28h-1zM145 717h3v24h-3zM158 725h1v16h-1zM157 732h3v6h-3zM162 727h1v28h-1zM161 737h3v6h-3zM170 747h1v13h-1zM169 750h3v3h-3zM174 713h1v34h-1zM173 714h3v32h-3zM178 691h1v31h-1zM177 708h3v4h-3zM182 685h1v30h-1zM181 690h3v24h-3zM186 674h1v17h-1zM185 687h3v2h-3zM194 690h1v29h-1zM193 695h3v11h-3zM198 658h1v35h-1zM197 669h3v22h-3zM202 627h1v24h-1zM201 645h3v5h-3zM206 617h1v23h-1zM205 618h3v10h-3zM210 614h1v12h-1zM209 619h3v6h-3zM214 583h1v32h-1zM213 591h3v23h-3zM222 564h1v43h-1zM221 565h3v33h-3zM226 550h1v29h-1zM225 557h3v5h-3zM230 551h1v33h-1zM229 558h3v14h-3zM234 514h1v35h-1zM233 521h3v21h-3zM238 515h1v26h-1zM237 527h3v2h-3zM246 526h1v28h-1zM245 538h3v3h-3zM250 522h1v26h-1zM249 531h3v9h-3zM258 535h1v44h-1zM257 538h3v41h-3zM266 522h1v20h-1zM265 532h3v5h-3zM278 528h1v20h-1zM277 538h3v5h-3zM282 516h1v25h-1zM281 522h3v16h-3zM294 520h1v23h-1zM293 521h3v21h-3zM330 602h1v25h-1zM329 606h3v18h-3zM342 570h1v32h-1zM341 584h3v17h-3zM346 566h1v22h-1zM345 571h3v16h-3zM354 587h1v26h-1zM353 599h3v8h-3zM358 576h1v27h-1zM357 590h3v2h-3zM374 630h1v32h-1zM373 634h3v13h-3zM378 616h1v40h-1zM377 624h3v12h-3zM390 690h1v43h-1zM389 725h3v2h-3zM394 681h1v32h-1zM393 700h3v3h-3zM398 707h1v21h-1zM397 711h3v16h-3zM402 671h1v24h-1zM401 686h3v8h-3zM406 671h1v32h-1zM405 676h3v24h-3zM414 653h1v19h-1zM413 657h3v13h-3zM418 636h1v22h-1zM417 649h3v3h-3zM438 684h1v18h-1zM437 692h3v4h-3zM446 683h1v19h-1zM445 686h3v15h-3zM450 692h1v16h-1zM449 695h3v3h-3zM454 704h1v22h-1zM453 707h3v18h-3zM458 681h1v25h-1zM457 682h3v8h-3zM462 674h1v16h-1zM461 674h3v11h-3zM466 647h1v26h-1zM465 653h3v18h-3zM470 632h1v18h-1zM469 636h3v13h-3zM474 623h1v16h-1zM473 629h3v9h-3zM486 620h1v28h-1zM485 625h3v22h-3zM490 592h1v27h-1zM489 601h3v17h-3zM494 571h1v30h-1zM493 573h3v24h-3zM498 572h1v18h-1zM497 576h3v13h-3zM510 599h1v18h-1zM509 601h3v15h-3zM514 571h1v19h-1zM513 582h3v2h-3zM518 568h1v18h-1zM517 570h3v13h-3zM550 616h1v37h-1zM549 617h3v34h-3zM554 575h1v35h-1zM553 582h3v27h-3zM558 551h1v55h-1zM557 561h3v43h-3zM562 553h1v25h-1zM561 566h3v2h-3zM566 563h1v14h-1zM565 567h3v2h-3zM570 545h1v34h-1zM569 551h3v4h-3zM582 529h1v21h-1zM581 542h3v6h-3zM586 528h1v24h-1zM585 530h3v8h-3zM594 523h1v26h-1zM593 530h3v18h-3zM598 506h1v24h-1zM597 513h3v16h-3zM602 499h1v31h-1zM601 504h3v22h-3zM610 513h1v32h-1zM609 527h3v2h-3zM614 489h1v37h-1zM613 491h3v31h-3zM638 549h1v35h-1zM637 557h3v26h-3zM642 515h1v51h-1zM641 527h3v38h-3zM646 513h1v42h-1zM645 517h3v27h-3zM650 488h1v36h-1zM649 500h3v18h-3zM654 449h1v47h-1zM653 461h3v27h-3zM666 477h1v83h-1zM665 488h3v38h-3zM670 449h1v36h-1zM669 465h3v19h-3zM678 488h1v30h-1zM677 504h3v13h-3zM690 541h1v31h-1zM689 542h3v14h-3zM698 533h1v22h-1zM697 540h3v14h-3zM706 524h1v34h-1zM705 526h3v27h-3zM714 472h1v33h-1zM713 482h3v21h-3zM722 467h1v42h-1zM721 473h3v14h-3zM734 482h1v17h-1zM733 492h3v3h-3zM738 482h1v23h-1zM737 493h3v4h-3zM742 482h1v38h-1zM741 492h3v21h-3zM750 466h1v36h-1zM749 473h3v15h-3zM754 444h1v28h-1zM753 457h3v5h-3zM762 403h1v50h-1zM761 404h3v47h-3zM766 392h1v19h-1zM765 401h3v3h-3zM770 357h1v55h-1zM769 361h3v45h-3zM774 325h1v30h-1zM773 331h3v22h-3zM778 302h1v29h-1zM777 305h3v23h-3zM794 331h1v114h-1zM793 362h3v63h-3zM806 388h1v33h-1zM805 399h3v20h-3zM810 319h1v85h-1zM809 322h3v78h-3zM814 249h1v70h-1zM813 253h3v48h-3zM818 258h1v47h-1zM817 270h3v2h-3zM822 260h1v35h-1zM821 267h3v2h-3zM826 227h1v35h-1zM825 257h3v4h-3zM834 190h1v56h-1zM833 191h3v46h-3zM842 313h1v50h-1zM841 321h3v3h-3zM846 257h1v52h-1zM845 259h3v45h-3zM850 253h1v50h-1zM849 284h3v1h-3zM854 249h1v31h-1zM853 249h3v24h-3zM858 257h1v30h-1zM857 274h3v8h-3zM862 202h1v48h-1zM861 228h3v20h-3zM882 200h1v38h-1zM881 213h3v20h-3zM886 165h1v38h-1zM885 171h3v26h-3zM910 175h1v43h-1zM909 185h3v6h-3zM914 165h1v33h-1zM913 167h3v14h-3zM918 134h1v24h-1zM917 139h3v11h-3zM922 74h1v66h-1zM921 84h3v53h-3zM926 66h1v21h-1zM925 68h3v13h-3zM942 120h1v57h-1zM941 147h3v6h-3zM958 273h1v43h-1zM957 289h3v15h-3zM962 248h1v28h-1zM961 259h3v9h-3zM970 289h1v50h-1zM969 322h3v16h-3zM974 301h1v38h-1zM973 303h3v36h-3zM978 282h1v43h-1zM977 296h3v12h-3zM982 250h1v31h-1zM981 261h3v17h-3zM990 258h1v34h-1zM989 274h3v9h-3zM1010 366h1v44h-1zM1009 367h3v42h-3zM1018 383h1v29h-1zM1017 399h3v11h-3zM1034 484h1v30h-1zM1033 498h3v6h-3zM1042 475h1v21h-1zM1041 482h3v4h-3zM1054 479h1v35h-1zM1053 486h3v26h-3zM1058 466h1v42h-1zM1057 466h3v41h-3zM1066 423h1v30h-1zM1065 427h3v20h-3zM1074 464h1v25h-1zM1073 477h3v5h-3zM1082 490h1v22h-1zM1081 496h3v3h-3zM1086 473h1v39h-1zM1085 493h3v11h-3zM1094 498h1v30h-1zM1093 506h3v8h-3zM1098 475h1v32h-1zM1097 479h3v13h-3zM1102 436h1v55h-1zM1101 440h3v45h-3zM1110 427h1v24h-1zM1109 429h3v20h-3zM1114 396h1v33h-1zM1113 420h3v5h-3zM1122 409h1v37h-1zM1121 427h3v18h-3zM1126 419h1v24h-1zM1125 422h3v9h-3zM1130 381h1v33h-1zM1129 386h3v28h-3zM1134 366h1v27h-1zM1133 375h3v10h-3zM1138 356h1v44h-1zM1137 364h3v29h-3zM1142 310h1v45h-1zM1141 312h3v43h-3zM1154 328h1v18h-1zM1153 339h3v2h-3zM1158 319h1v44h-1zM1157 320h3v22h-3zM1174 341h1v55h-1zM1173 342h3v49h-3zM1178 306h1v38h-1zM1177 315h3v27h-3zM1194 367h1v32h-1zM1193 370h3v24h-3zM1198 339h1v37h-1zM1197 364h3v10h-3zM1206 381h1v34h-1zM1205 396h3v11h-3zM1218 474h1v40h-1zM1217 475h3v22h-3zM1230 471h1v40h-1zM1229 486h3v20h-3zM1238 541h1v37h-1zM1237 551h3v26h-3zM1242 517h1v39h-1zM1241 528h3v17h-3zM1246 496h1v61h-1zM1245 505h3v34h-3zM1254 489h1v31h-1zM1253 502h3v7h-3zM1258 463h1v32h-1zM1257 471h3v20h-3zM1262 423h1v45h-1zM1261 439h3v14h-3zM1266 405h1v62h-1zM1265 409h3v36h-3zM1274 410h1v31h-1zM1273 414h3v12h-3zM1282 452h1v43h-1zM1281 463h3v1h-3zM1290 417h1v56h-1zM1289 418h3v52h-3zM1298 386h1v32h-1zM1297 407h3v9h-3zM1306 393h1v25h-1zM1305 396h3v9h-3zM1310 345h1v42h-1zM1309 365h3v14h-3zM1314 360h1v29h-1zM1313 364h3v12h-3zM1318 342h1v47h-1zM1317 347h3v27h-3zM1326 364h1v25h-1zM1325 371h3v7h-3zM1330 294h1v43h-1zM1329 301h3v30h-3zM1334 287h1v37h-1zM1333 304h3v16h-3zM1338 293h1v41h-1zM1337 310h3v7h-3zM1342 270h1v33h-1zM1341 281h3v16h-3zM1350 272h1v44h-1zM1349 280h3v34h-3zM1354 239h1v41h-1zM1353 249h3v15h-3zM1358 238h1v28h-1zM1357 249h3v16h-3zM1374 293h1v37h-1zM1373 303h3v9h-3zM1378 293h1v28h-1zM1377 300h3v4h-3zM1382 278h1v26h-1zM1381 283h3v20h-3zM1402 249h1v48h-1zM1401 253h3v41h-3zM1410 233h1v28h-1zM1409 234h3v16h-3zM1414 212h1v25h-1zM1413 217h3v14h-3zM1418 237h1v24h-1zM1417 242h3v5h-3zM1422 201h1v32h-1zM1421 217h3v1h-3zM1426 191h1v46h-1zM1425 193h3v23h-3zM1434 207h1v22h-1zM1433 216h3v6h-3zM1438 204h1v25h-1zM1437 220h3v3h-3zM1450 240h1v28h-1zM1449 262h3v6h-3zM1458 256h1v29h-1zM1457 259h3v19h-3zM1462 239h1v19h-1zM1461 248h3v3h-3zM1466 228h1v34h-1zM1465 243h3v4h-3zM1478 248h1v33h-1zM1477 261h3v19h-3zM1482 229h1v54h-1zM1481 236h3v40h-3zM1486 191h1v42h-1zM1485 205h3v28h-3zM1494 193h1v23h-1zM1493 195h3v17h-3zM1498 161h1v23h-1zM1497 168h3v15h-3zM1506 180h1v24h-1zM1505 186h3v16h-3zM1522 201h1v35h-1zM1521 201h3v34h-3zM1526 160h1v40h-1zM1525 164h3v23h-3zM1542 178h1v27h-1zM1541 188h3v7h-3zM1546 177h1v20h-1zM1545 188h3v3h-3zM1554 179h1v34h-1zM1553 188h3v5h-3zM1558 152h1v22h-1zM1557 161h3v9h-3zM1562 162h1v35h-1zM1561 164h3v18h-3zM1566 144h1v23h-1zM1565 146h3v7h-3zM1570 130h1v22h-1zM1569 131h3v18h-3zM1582 163h1v24h-1zM1581 169h3v6h-3zM1586 138h1v22h-1zM1585 155h3v4h-3zM1590 159h1v28h-1zM1589 164h3v10h-3zM1614 239h1v25h-1zM1613 240h3v11h-3zM1618 188h1v44h-1zM1617 205h3v19h-3zM1626 147h1v67h-1zM1625 153h3v55h-3zM1634 132h1v29h-1zM1633 138h3v8h-3z"/>
<path fill="#646464" d="M6 751h1v20h-1zM5 753h3v7h-3zM10 751h1v38h-1zM9 768h3v13h-3zM14 786h1v38h-1zM13 792h3v31h-3zM26 751h1v30h-1zM25 761h3v16h-3zM30 757h1v25h-1zM29 771h3v6h-3zM46 709h1v49h-1zM45 719h3v27h-3zM50 740h1v38h-1zM49 753h3v20h-3zM62 733h1v32h-1zM61 738h3v19h-3zM90 718h1v17h-1zM89 719h3v12h-3zM94 738h1v12h-1zM93 741h3v1h-3zM106 753h1v16h-1zM105 761h3v4h-3zM122 712h1v13h-1zM121 718h3v5h-3zM138 702h1v23h-1zM137 703h3v21h-3zM142 716h1v27h-1zM141 725h3v14h-3zM150 716h1v20h-1zM149 717h3v18h-3zM154 727h1v14h-1zM153 733h3v3h-3zM166 746h1v14h-1zM165 752h3v2h-3zM190 672h1v27h-1zM189 673h3v22h-3zM218 568h1v25h-1zM217 585h3v2h-3zM242 514h1v38h-1zM241 522h3v26h-3zM254 516h1v35h-1zM253 527h3v19h-3zM262 537h1v31h-1zM261 541h3v9h-3zM270 517h1v21h-1zM269 521h3v8h-3zM274 528h1v22h-1zM273 532h3v6h-3zM286 524h1v20h-1zM285 533h3v8h-3zM290 530h1v17h-1zM289 542h3v2h-3zM298 518h1v24h-1zM297 528h3v7h-3zM302 532h1v25h-1zM301 537h3v9h-3zM306 541h1v58h-1zM305 551h3v36h-3zM310 560h1v30h-1zM309 581h3v4h-3zM314 572h1v21h-1zM313 583h3v3h-3zM318 594h1v21h-1zM317 595h3v7h-3zM322 605h1v24h-1zM321 613h3v7h-3zM326 593h1v27h-1zM325 614h3v4h-3zM334 587h1v27h-1zM333 601h3v7h-3zM338 592h1v26h-1zM337 603h3v9h-3zM350 581h1v22h-1zM349 582h3v14h-3zM362 592h1v16h-1zM361 596h3v6h-3zM366 612h1v19h-1zM365 619h3v2h-3zM370 608h1v49h-1zM369 609h3v43h-3zM382 614h1v33h-1zM381 619h3v17h-3zM386 639h1v15h-1zM385 640h3v2h-3zM410 659h1v26h-1zM409 659h3v25h-3zM422 648h1v23h-1zM421 652h3v6h-3zM426 654h1v28h-1zM425 656h3v18h-3zM430 669h1v16h-1zM429 679h3v4h-3zM434 662h1v42h-1zM433 674h3v29h-3zM442 693h1v20h-1zM441 693h3v18h-3zM478 627h1v23h-1zM477 636h3v8h-3zM482 640h1v11h-1zM481 645h3v2h-3zM502 597h1v26h-1zM501 598h3v14h-3zM506 598h1v20h-1zM505 607h3v3h-3zM522 562h1v20h-1zM521 567h3v3h-3zM526 562h1v19h-1zM525 564h3v7h-3zM530 560h1v23h-1zM529 563h3v11h-3zM534 550h1v32h-1zM533 576h3v3h-3zM538 585h1v33h-1zM537 585h3v23h-3zM542 615h1v34h-1zM541 617h3v11h-3zM546 617h1v41h-1zM545 626h3v24h-3zM574 545h1v29h-1zM573 548h3v7h-3zM578 546h1v22h-1zM577 552h3v9h-3zM590 506h1v45h-1zM589 527h3v22h-3zM606 488h1v38h-1zM605 515h3v10h-3zM618 488h1v34h-1zM617 495h3v9h-3zM622 486h1v36h-1zM621 488h3v24h-3zM626 507h1v28h-1zM625 515h3v9h-3zM630 509h1v35h-1zM629 534h3v7h-3zM634 526h1v28h-1zM633 537h3v15h-3zM658 423h1v65h-1zM657 443h3v43h-3zM662 499h1v53h-1zM661 502h3v36h-3zM674 439h1v70h-1zM673 469h3v30h-3zM682 489h1v45h-1zM681 516h3v5h-3zM686 524h1v39h-1zM685 531h3v11h-3zM694 526h1v45h-1zM693 528h3v33h-3zM702 537h1v36h-1zM701 538h3v21h-3zM710 504h1v23h-1zM709 517h3v9h-3zM718 466h1v23h-1zM717 473h3v13h-3zM726 460h1v46h-1zM725 480h3v18h-3zM730 471h1v55h-1zM729 487h3v28h-3zM746 481h1v19h-1zM745 489h3v6h-3zM758 449h1v26h-1zM757 462h3v8h-3zM782 280h1v38h-1zM781 292h3v26h-3zM786 302h1v24h-1zM785 314h3v9h-3zM790 304h1v20h-1zM789 306h3v7h-3zM798 375h1v48h-1zM797 399h3v23h-3zM802 399h1v37h-1zM801 400h3v11h-3zM830 220h1v36h-1zM829 224h3v14h-3zM838 204h1v120h-1zM837 209h3v111h-3zM866 193h1v32h-1zM865 211h3v8h-3zM870 196h1v50h-1zM869 210h3v29h-3zM874 206h1v36h-1zM873 209h3v31h-3zM878 197h1v40h-1zM877 211h3v16h-3zM890 173h1v27h-1zM889 175h3v5h-3zM894 177h1v34h-1zM893 185h3v2h-3zM898 187h1v28h-1zM897 187h3v12h-3zM902 148h1v39h-1zM901 167h3v16h-3zM906 159h1v39h-1zM905 185h3v11h-3zM930 59h1v53h-1zM929 72h3v40h-3zM934 88h1v60h-1zM933 123h3v10h-3zM938 137h1v48h-1zM937 157h3v8h-3zM946 143h1v61h-1zM945 164h3v17h-3zM950 175h1v79h-1zM949 181h3v67h-3zM954 238h1v70h-1zM953 245h3v61h-3zM966 286h1v42h-1zM965 300h3v22h-3zM986 241h1v29h-1zM985 261h3v4h-3zM994 272h1v69h-1zM993 295h3v36h-3zM998 287h1v27h-1zM997 298h3v5h-3zM1002 327h1v87h-1zM1001 333h3v80h-3zM1006 388h1v54h-1zM1005 401h3v32h-3zM1014 348h1v52h-1zM1013 373h3v10h-3zM1022 387h1v95h-1zM1021 397h3v70h-3zM1026 458h1v50h-1zM1025 469h3v3h-3zM1030 466h1v53h-1zM1029 474h3v38h-3zM1038 458h1v35h-1zM1037 484h3v2h-3zM1046 463h1v26h-1zM1045 466h3v14h-3zM1050 471h1v52h-1zM1049 481h3v34h-3zM1062 433h1v24h-1zM1061 442h3v9h-3zM1070 442h1v81h-1zM1069 443h3v48h-3zM1078 464h1v47h-1zM1077 477h3v24h-3zM1090 475h1v35h-1zM1089 503h3v5h-3zM1106 438h1v31h-1zM1105 449h3v6h-3zM1118 414h1v51h-1zM1117 419h3v28h-3zM1146 314h1v45h-1zM1145 326h3v33h-3zM1150 322h1v21h-1zM1149 339h3v2h-3zM1162 298h1v69h-1zM1161 305h3v54h-3zM1166 361h1v59h-1zM1165 367h3v18h-3zM1170 389h1v18h-1zM1169 397h3v3h-3zM1182 304h1v37h-1zM1181 306h3v29h-3zM1186 319h1v71h-1zM1185 331h3v50h-3zM1190 374h1v34h-1zM1189 390h3v11h-3zM1202 360h1v45h-1zM1201 361h3v36h-3zM1210 391h1v72h-1zM1209 404h3v44h-3zM1214 447h1v51h-1zM1213 449h3v40h-3zM1222 468h1v28h-1zM1221 476h3v16h-3zM1226 449h1v53h-1zM1225 484h3v15h-3zM1234 495h1v76h-1zM1233 498h3v50h-3zM1250 503h1v39h-1zM1249 505h3v7h-3zM1270 401h1v41h-1zM1269 427h3v2h-3zM1278 410h1v37h-1zM1277 421h3v13h-3zM1286 440h1v45h-1zM1285 457h3v11h-3zM1294 385h1v52h-1zM1293 414h3v13h-3zM1302 397h1v27h-1zM1301 407h3v7h-3zM1322 349h1v28h-1zM1321 349h3v26h-3zM1346 270h1v40h-1zM1345 272h3v25h-3zM1362 259h1v17h-1zM1361 261h3v9h-3zM1366 265h1v32h-1zM1365 266h3v25h-3zM1370 279h1v47h-1zM1369 306h3v7h-3zM1386 251h1v27h-1zM1385 268h3v3h-3zM1390 272h1v33h-1zM1389 273h3v27h-3zM1394 269h1v55h-1zM1393 281h3v28h-3zM1398 290h1v55h-1zM1397 308h3v36h-3zM1406 217h1v44h-1zM1405 241h3v14h-3zM1430 187h1v25h-1zM1429 192h3v10h-3zM1442 222h1v30h-1zM1441 232h3v4h-3zM1446 243h1v26h-1zM1445 250h3v16h-3zM1454 259h1v27h-1zM1453 263h3v3h-3zM1470 236h1v28h-1zM1469 252h3v10h-3zM1474 249h1v35h-1zM1473 257h3v21h-3zM1490 185h1v25h-1zM1489 195h3v9h-3zM1502 153h1v43h-1zM1501 171h3v15h-3zM1510 179h1v23h-1zM1509 181h3v21h-3zM1514 147h1v56h-1zM1513 154h3v44h-3zM1518 209h1v38h-1zM1517 216h3v23h-3zM1530 169h1v34h-1zM1529 194h3v3h-3zM1534 180h1v24h-1zM1533 201h3v2h-3zM1538 187h1v29h-1zM1537 199h3v9h-3zM1550 169h1v63h-1zM1549 177h3v21h-3zM1574 131h1v26h-1zM1573 131h3v20h-3zM1578 151h1v37h-1zM1577 163h3v17h-3zM1594 169h1v22h-1zM1593 171h3v3h-3zM1598 147h1v39h-1zM1597 152h3v33h-3zM1602 189h1v38h-1zM1601 192h3v33h-3zM1606 210h1v34h-1zM1605 237h3v1h-3zM1610 232h1v32h-1zM1609 238h3v25h-3zM1622 187h1v33h-1zM1621 197h3v12h-3zM1630 139h1v23h-1zM1629 148h3v8h-3zM1638 130h1v24h-1zM1637 144h3v5h-3zM1642 141h1v65h-1zM1641 149h3v36h-3z"/>
</g>
<polyline fill="none" stroke="#28AFC8" stroke-width="1" stroke-dasharray="17 7" shape-rendering="crispEdges" points="2.6,657.6 19.3,669.0 26.4,672.5 42.2,678.7 50.1,682.2 67.7,687.5 73.9,689.3 91.5,692.4 98.5,694.2 114.3,698.0 121.4,698.9 139.0,699.5 146.0,701.2 163.6,703.7 170.6,705.4 186.5,706.0 211.1,700.7 235.7,683.1 242.7,677.8 260.0,666.4 266.0,662.6 283.6,651.6 290.2,647.9 307.8,640.2 314.4,638.4 332.0,635.8 340.8,634.0 360.6,630.6 380.4,630.3 387.0,631.4 403.5,635.8 410.1,638.0 430.4,639.9 452.4,645.9 475.0,646.8 486.4,647.7 504.0,642.2 523.8,636.7 530.4,634.5 548.0,632.9 554.6,632.3 571.1,626.8 578.8,624.1 596.4,618.0 603.0,613.6 620.6,604.8 627.2,601.5 643.7,597.7 651.4,592.7 667.9,585.4 674.5,582.3 691.0,577.9 698.7,577.3 719.0,571.2 740.0,563.4 746.2,561.0 763.8,552.2 770.4,546.7 785.8,529.1 792.4,522.5 808.9,512.6 815.5,504.9 832.0,484.0 851.8,465.9 858.4,458.0 877.6,437.8 897.4,413.9 918.9,389.9 937.0,365.5 945.3,356.4 956.3,352.0 962.9,349.8 980.0,345.8 987.7,342.8 1003.1,342.4 1011.9,345.0 1020.7,346.8 1028.4,352.7 1035.0,358.2 1052.6,368.1 1059.2,372.5 1076.8,379.7 1084.5,385.7 1099.9,392.9 1107.6,395.1 1124.1,397.8 1131.8,397.3 1148.3,392.9 1156.0,390.7 1172.5,390.1 1179.1,386.8 1196.7,386.3 1204.4,386.8 1220.9,391.6 1227.5,396.0 1244.0,405.5 1251.7,409.9 1260.0,412.1 1268.0,414.2 1274.6,413.8 1291.1,416.4 1298.8,416.4 1314.2,413.8 1323.0,411.2 1339.5,402.8 1347.2,398.8 1363.7,389.2 1371.4,385.2 1388.3,378.0 1395.4,375.3 1412.5,365.6 1419.1,361.0 1437.1,348.9 1443.7,344.5 1460.2,338.4 1467.9,335.1 1484.4,328.5 1491.0,324.1 1508.9,312.3 1515.0,309.4 1532.6,300.0 1539.5,295.9 1556.6,287.4 1563.2,283.7 1580.8,272.7 1587.4,268.9 1601.1,263.6 1614.9,262.8 1621.5,261.0 1628.1,257.3 1634.7,252.9 1641.9,250.0"/>
<polyline fill="none" stroke="#DC5064" stroke-width="1" stroke-dasharray="17 7" shape-rendering="crispEdges" points="4.8,637.4 16.7,654.5 35.2,673.4 42.2,677.8 52.8,686.6 59.8,690.7 66.8,694.5 82.7,700.7 89.7,701.9 107.3,708.2 114.3,711.2 131.0,711.2 139.0,711.2 154.8,714.8 161.8,715.6 171.5,719.2 179.4,718.3 186.5,716.5 204.0,709.5 211.1,701.6 227.8,683.1 245.4,658.5 262.4,639.9 289.1,614.9 299.0,607.2 305.6,604.3 312.2,603.2 318.8,603.4 337.5,604.3 354.0,602.3 365.0,602.2 384.8,607.6 398.0,618.2 406.8,625.2 420.0,629.6 431.0,634.0 442.0,641.3 454.1,647.9 461.8,650.1 472.8,650.1 482.0,648.8 490.8,644.4 499.6,639.5 510.6,636.7 530.9,625.1 541.4,622.4 549.6,624.0 557.9,620.2 575.5,610.3 582.1,605.9 599.7,594.9 606.3,589.4 623.9,576.6 630.5,572.9 638.2,572.2 647.0,567.8 653.6,561.9 675.0,549.0 695.4,547.1 702.0,547.1 719.6,540.5 726.2,536.1 740.0,532.2 751.7,525.8 768.7,509.5 782.5,485.3 796.8,466.8 807.2,460.3 815.5,447.7 831.4,417.4 845.2,400.8 861.1,380.6 881.5,352.0 896.4,329.3 914.7,304.4 929.0,277.4 946.6,257.8 953.2,257.8 962.0,259.3 970.8,264.4 977.4,267.7 988.4,267.0 995.0,268.8 1013.0,290.0 1021.8,301.0 1030.6,314.2 1044.9,339.5 1064.7,362.6 1085.6,386.8 1092.2,393.4 1107.6,403.3 1115.3,405.5 1123.0,408.1 1131.8,407.7 1139.5,402.2 1153.8,394.5 1164.8,390.1 1173.6,389.0 1180.2,384.6 1186.8,384.1 1207.1,385.5 1231.3,406.9 1247.3,424.6 1257.5,431.9 1273.5,431.0 1280.1,431.8 1287.8,433.6 1297.7,431.8 1304.3,429.2 1321.9,419.3 1328.5,415.6 1342.8,401.0 1349.4,391.4 1362.6,376.0 1370.3,370.2 1387.9,357.7 1394.2,353.8 1410.7,342.3 1417.3,334.0 1431.6,317.5 1438.2,310.2 1455.8,302.7 1464.6,297.7 1480.0,292.6 1486.6,288.2 1503.1,273.5 1511.3,266.0 1526.5,257.4 1533.1,251.9 1540.0,250.0 1551.1,244.1 1557.7,239.0 1574.2,225.4 1580.8,221.4 1591.8,215.5 1598.4,213.3 1605.0,214.4 1611.6,217.7 1622.6,217.7 1629.2,211.7 1635.8,207.8 1641.9,206.0"/>
<polyline fill="none" stroke="#961A1A" stroke-width="2" stroke-linejoin="round" shape-rendering="crispEdges" points="2.6,812.4 17.6,808.0 35.2,802.7 52.8,797.1 70.4,791.6 88.0,786.0 105.5,779.8 123.1,772.8 140.7,765.2 158.3,758.2 175.9,750.5 193.5,743.8 211.1,735.0 228.7,723.6 246.3,713.9 260.0,706.5 266.0,704.4 277.0,700.0 288.0,696.3 299.0,691.9 310.0,689.0 321.0,685.9 332.0,683.5 343.0,680.4 354.0,678.0 365.0,674.3 376.0,671.6 387.0,669.9 398.0,667.7 409.0,665.5 420.0,663.9 431.0,662.6 442.0,660.4 453.0,658.9 464.0,656.7 480.0,651.6 486.4,649.9 504.0,647.0 526.0,643.9 548.0,642.2 570.0,640.0 592.0,637.8 614.0,635.1 636.0,632.9 650.5,631.6 680.0,626.8 702.0,623.5 720.0,620.8 742.0,617.7 759.6,615.5 775.0,612.0 786.0,609.4 797.0,605.4 808.0,602.8 819.0,599.5 830.0,595.1 841.0,592.2 852.0,590.0 863.0,586.3 874.0,581.9 885.0,577.5 896.0,572.0 907.0,567.1 918.0,561.0 929.0,553.9 940.0,546.0 946.6,540.1 962.0,532.4 973.0,526.9 984.0,521.0 991.0,517.7 1001.0,513.5 1017.4,507.8 1035.0,502.9 1057.0,496.8 1079.0,490.6 1101.0,484.7 1123.0,479.2 1134.0,477.0 1145.0,473.7 1156.0,470.4 1167.0,467.7 1178.0,465.5 1189.0,463.3 1200.0,461.1 1211.0,459.8 1222.0,459.4 1244.0,458.3 1260.0,457.6 1268.0,455.1 1279.0,453.4 1290.0,451.6 1301.0,449.4 1312.0,446.8 1323.0,442.4 1334.0,438.0 1342.3,435.3 1356.0,428.8 1367.0,423.7 1378.0,418.2 1389.0,413.8 1400.0,409.4 1411.0,404.6 1422.0,400.2 1433.0,396.2 1444.0,392.2 1462.3,386.3 1475.6,382.4 1486.6,378.0 1497.6,373.6 1511.5,368.1 1524.0,363.0 1532.8,359.3 1540.0,356.0 1558.8,350.1 1572.0,344.2 1583.0,340.9 1594.0,337.1 1607.2,333.6 1616.0,331.0 1624.8,327.7 1633.6,323.3 1642.4,319.5"/>
<polyline fill="none" stroke="#2A2A4A" stroke-width="2" stroke-linejoin="round" shape-rendering="crispEdges" points="2.6,771.0 17.6,765.2 35.2,758.2 52.8,750.5 70.4,742.9 88.0,731.5 105.5,722.7 123.1,718.8 140.7,713.9 158.3,711.2 175.9,708.2 193.5,705.1 211.1,701.6 228.7,694.5 246.3,687.5 260.0,681.3 266.0,678.0 277.0,673.6 288.0,669.4 299.0,665.9 310.0,663.9 321.0,660.4 332.0,658.2 343.0,654.5 354.0,651.6 365.0,647.2 376.0,645.2 387.0,642.8 398.0,641.9 409.0,642.8 420.0,643.0 431.0,644.1 442.0,645.7 453.0,646.8 464.0,647.2 480.0,647.9 486.4,647.2 526.0,643.3 570.0,639.5 614.0,634.5 650.5,631.2 680.0,628.5 702.0,626.8 720.0,625.9 742.0,623.7 761.8,620.4 775.0,614.9 786.0,610.5 797.0,605.4 808.0,600.1 819.0,592.9 830.0,585.2 841.0,579.0 852.0,573.1 863.0,566.5 874.0,558.8 885.0,552.2 896.0,545.1 907.0,537.9 918.0,529.7 929.0,521.0 940.0,512.6 946.6,507.1 962.0,499.0 973.0,493.2 984.0,487.3 991.0,483.6 1001.0,479.6 1016.3,474.8 1035.0,472.6 1057.0,471.5 1079.0,470.4 1101.0,469.3 1112.0,467.1 1123.0,465.5 1134.0,461.6 1145.0,458.9 1156.0,455.4 1167.0,451.7 1178.0,447.9 1189.0,444.0 1200.0,439.6 1208.8,435.6 1222.0,433.0 1233.0,430.3 1244.0,428.1 1260.0,425.3 1268.0,421.5 1279.0,418.6 1290.0,416.0 1301.0,414.2 1312.0,411.6 1323.0,408.3 1334.0,405.4 1342.3,401.7 1356.0,395.1 1367.0,391.8 1378.0,387.8 1389.0,384.1 1400.0,381.2 1411.0,378.2 1422.0,374.2 1433.0,370.2 1444.0,366.5 1462.3,360.9 1475.6,357.7 1486.6,353.8 1497.6,349.4 1511.5,342.2 1524.0,337.3 1532.8,334.0 1540.0,331.8 1550.0,327.7 1561.0,323.9 1572.0,321.1 1583.0,318.2 1594.0,316.0 1607.2,313.4 1620.4,312.3 1633.6,311.2 1642.4,310.1"/>
</g>
<circle cx="18.8" cy="824.5" r="5.7" fill="#941C1C"/><ellipse cx="18.8" cy="824.7" rx="2.3" ry="3" fill="#E0607A"/>
<circle cx="86.7" cy="710.4" r="4.6" fill="#6495ED"/>
<circle cx="110.5" cy="770.5" r="4.6" fill="#FF7F50"/>
<circle cx="135" cy="694" r="4.6" fill="#6495ED"/>
<circle cx="166.6" cy="763.5" r="4.6" fill="#FF7F50"/>
<circle cx="235.2" cy="509.3" r="5.7" fill="#191970"/><ellipse cx="235.2" cy="509.5" rx="2.3" ry="3" fill="#6495ED"/>
<circle cx="295" cy="516.3" r="4.6" fill="#6495ED"/>
<circle cx="330.9" cy="632.5" r="4.6" fill="#FF7F50"/>
<circle cx="398.6" cy="731.9" r="5.7" fill="#9A1E1E"/><ellipse cx="398.6" cy="732.1" rx="2.3" ry="3" fill="#FF7F50"/>
<circle cx="454.7" cy="729.7" r="4.6" fill="#FF7F50"/>
<circle cx="499.2" cy="564.5" r="4.6" fill="#6495ED"/>
<circle cx="535.2" cy="547.6" r="4.6" fill="#48B0C8"/>
<circle cx="546.9" cy="662.6" r="4.6" fill="#FF7F50"/>
<circle cx="623" cy="484.5" r="4.6" fill="#6495ED"/>
<circle cx="638.6" cy="587.6" r="4.6" fill="#FF7F50"/>
<circle cx="659" cy="417.5" r="5.7" fill="#191970"/><ellipse cx="659" cy="417.7" rx="2.3" ry="3" fill="#6495ED"/>
<circle cx="690.5" cy="573.5" r="4.6" fill="#FF7F50"/>
<circle cx="727.2" cy="455.6" r="4.6" fill="#6495ED"/>
<circle cx="783.1" cy="275.6" r="4.6" fill="#6495ED"/>
<circle cx="835" cy="187" r="5.7" fill="#191970"/><ellipse cx="835" cy="187.2" rx="2.3" ry="3" fill="#6495ED"/>
<circle cx="931" cy="56.4" r="5.7" fill="#191970"/><ellipse cx="931" cy="56.6" rx="2.3" ry="3" fill="#6495ED"/>
<circle cx="970.8" cy="342.5" r="4.6" fill="#FF7F50"/>
<circle cx="1031" cy="523.8" r="5.7" fill="#9A1E1E"/><ellipse cx="1031" cy="524.0" rx="2.3" ry="3" fill="#FF7F50"/>
<circle cx="1094.8" cy="534.2" r="5.7" fill="#941C1C"/><ellipse cx="1094.8" cy="534.4000000000001" rx="2.3" ry="3" fill="#E0607A"/>
<circle cx="1163" cy="302.5" r="5.7" fill="#191970"/><ellipse cx="1163" cy="302.7" rx="2.3" ry="3" fill="#6495ED"/>
<circle cx="1239" cy="579.9" r="5.7" fill="#9A1E1E"/><ellipse cx="1239" cy="580.1" rx="2.3" ry="3" fill="#FF7F50"/>
<circle cx="1271.2" cy="397.3" r="4.6" fill="#6495ED"/>
<circle cx="1355" cy="233.9" r="5.7" fill="#191970"/><ellipse cx="1355" cy="234.1" rx="2.3" ry="3" fill="#6495ED"/>
<circle cx="1398.6" cy="350.5" r="4.6" fill="#FF7F50"/>
<circle cx="1431" cy="189.9" r="5.7" fill="#191970"/><ellipse cx="1431" cy="190.1" rx="2.3" ry="3" fill="#6495ED"/>
<circle cx="1454.8" cy="288.4" r="4.6" fill="#FF7F50"/>
<circle cx="1515" cy="141.8" r="5.7" fill="#2C2C4E"/><ellipse cx="1515" cy="142.0" rx="2.3" ry="3" fill="#50B4DC"/>
<circle cx="1571" cy="124.6" r="5.7" fill="#2C2C4E"/><ellipse cx="1571" cy="124.8" rx="2.3" ry="3" fill="#50B4DC"/>
<circle cx="1611" cy="267.6" r="4.6" fill="#FF7F50"/>
<circle cx="1639" cy="124.6" r="5.7" fill="#2C2C4E"/><ellipse cx="1639" cy="124.8" rx="2.3" ry="3" fill="#50B4DC"/>
<line x1="311" y1="873.7" x2="2002" y2="336.6" stroke="#000" stroke-width="2.5"/>
</g>
<g shape-rendering="crispEdges">
<rect x="3" y="56" width="1999" height="2" fill="#FF0000"/>
<rect x="3" y="129" width="1999" height="2" fill="#FF0000"/>
<rect x="3" y="298" width="1999" height="2" fill="#FF0000"/>
<rect x="3" y="526" width="1999" height="2" fill="#FF0000"/>
<rect x="3" y="823" width="1999" height="2" fill="#FF0000"/>
</g>
<g shape-rendering="crispEdges">
<rect x="2" y="2" width="2001" height="1" fill="#000"/>
<rect x="2" y="2" width="1" height="872" fill="#000"/>
<rect x="2" y="873" width="2001" height="1" fill="#000"/>
<rect x="2002" y="2" width="1" height="1112" fill="#000"/>
<rect x="2" y="875" width="2005" height="1" fill="#000"/>
<rect x="2" y="875" width="1" height="133" fill="#000"/>
<rect x="2" y="1007" width="2005" height="1" fill="#000"/>
<rect x="2" y="1009" width="2005" height="1" fill="#000"/>
<rect x="2" y="1009" width="1" height="105" fill="#000"/>
<rect x="2" y="1113" width="2005" height="1" fill="#000"/>
<rect x="2003" y="4" width="4" height="1" fill="#000"/>
<rect x="2003" y="36" width="4" height="1" fill="#000"/>
<rect x="2003" y="68" width="4" height="1" fill="#000"/>
<rect x="2003" y="100" width="4" height="1" fill="#000"/>
<rect x="2003" y="132" width="4" height="1" fill="#000"/>
<rect x="2003" y="165" width="4" height="1" fill="#000"/>
<rect x="2003" y="197" width="4" height="1" fill="#000"/>
<rect x="2003" y="229" width="4" height="1" fill="#000"/>
<rect x="2003" y="261" width="4" height="1" fill="#000"/>
<rect x="2003" y="294" width="4" height="1" fill="#000"/>
<rect x="2003" y="326" width="4" height="1" fill="#000"/>
<rect x="2003" y="358" width="4" height="1" fill="#000"/>
<rect x="2003" y="390" width="4" height="1" fill="#000"/>
<rect x="2003" y="422" width="4" height="1" fill="#000"/>
<rect x="2003" y="454" width="4" height="1" fill="#000"/>
<rect x="2003" y="487" width="4" height="1" fill="#000"/>
<rect x="2003" y="519" width="4" height="1" fill="#000"/>
<rect x="2003" y="551" width="4" height="1" fill="#000"/>
<rect x="2003" y="583" width="4" height="1" fill="#000"/>
<rect x="2003" y="615" width="4" height="1" fill="#000"/>
<rect x="2003" y="647" width="4" height="1" fill="#000"/>
<rect x="2003" y="680" width="4" height="1" fill="#000"/>
<rect x="2003" y="712" width="4" height="1" fill="#000"/>
<rect x="2003" y="744" width="4" height="1" fill="#000"/>
<rect x="2003" y="776" width="4" height="1" fill="#000"/>
<rect x="2003" y="808" width="4" height="1" fill="#000"/>
<rect x="2003" y="841" width="4" height="1" fill="#000"/>
</g>
<text x="2008.1" y="9" fill="#000" textLength="37.6" lengthAdjust="spacingAndGlyphs">16.725</text>
<text x="2008.1" y="41" fill="#000" textLength="37.6" lengthAdjust="spacingAndGlyphs">16.410</text>
<text x="2008.1" y="73" fill="#000" textLength="37.6" lengthAdjust="spacingAndGlyphs">16.095</text>
<text x="2008.1" y="105" fill="#000" textLength="37.6" lengthAdjust="spacingAndGlyphs">15.780</text>
<text x="2008.1" y="136.6" fill="#000" textLength="37.6" lengthAdjust="spacingAndGlyphs">15.465</text>
<text x="2008.1" y="170" fill="#000" textLength="37.6" lengthAdjust="spacingAndGlyphs">15.150</text>
<text x="2008.1" y="202" fill="#000" textLength="37.6" lengthAdjust="spacingAndGlyphs">14.835</text>
<text x="2008.1" y="234" fill="#000" textLength="37.6" lengthAdjust="spacingAndGlyphs">14.520</text>
<text x="2008.1" y="266" fill="#000" textLength="37.6" lengthAdjust="spacingAndGlyphs">14.205</text>
<text x="2008.1" y="299" fill="#000" textLength="37.6" lengthAdjust="spacingAndGlyphs">13.890</text>
<text x="2008.1" y="331" fill="#000" textLength="37.6" lengthAdjust="spacingAndGlyphs">13.575</text>
<text x="2008.1" y="363" fill="#000" textLength="37.6" lengthAdjust="spacingAndGlyphs">13.260</text>
<text x="2008.1" y="395" fill="#000" textLength="37.6" lengthAdjust="spacingAndGlyphs">12.945</text>
<text x="2008.1" y="427" fill="#000" textLength="37.6" lengthAdjust="spacingAndGlyphs">12.630</text>
<text x="2008.1" y="459" fill="#000" textLength="37.6" lengthAdjust="spacingAndGlyphs">12.315</text>
<text x="2008.1" y="492" fill="#000" textLength="37.6" lengthAdjust="spacingAndGlyphs">12.000</text>
<text x="2008.1" y="524" fill="#000" textLength="37.6" lengthAdjust="spacingAndGlyphs">11.685</text>
<text x="2008.1" y="556" fill="#000" textLength="37.6" lengthAdjust="spacingAndGlyphs">11.370</text>
<text x="2008.1" y="588" fill="#000" textLength="37.6" lengthAdjust="spacingAndGlyphs">11.055</text>
<text x="2008.1" y="620" fill="#000" textLength="37.6" lengthAdjust="spacingAndGlyphs">10.740</text>
<text x="2008.1" y="652" fill="#000" textLength="37.6" lengthAdjust="spacingAndGlyphs">10.425</text>
<text x="2008.1" y="685" fill="#000" textLength="37.6" lengthAdjust="spacingAndGlyphs">10.110</text>
<text x="2008.1" y="717" fill="#000" textLength="31" lengthAdjust="spacingAndGlyphs">9.795</text>
<text x="2008.1" y="749" fill="#000" textLength="31" lengthAdjust="spacingAndGlyphs">9.480</text>
<text x="2008.1" y="781" fill="#000" textLength="31" lengthAdjust="spacingAndGlyphs">9.165</text>
<text x="2008.1" y="813" fill="#000" textLength="31" lengthAdjust="spacingAndGlyphs">8.850</text>
<text x="2008.1" y="846" fill="#000" textLength="31" lengthAdjust="spacingAndGlyphs">8.535</text>
<rect x="2005" y="50" width="47" height="14" fill="#FF0000" shape-rendering="crispEdges"/>
<text x="2009" y="62" fill="#fff" textLength="38.3" lengthAdjust="spacingAndGlyphs">16.201</text>
<rect x="2005" y="123" width="47" height="14" fill="#FF0000" shape-rendering="crispEdges"/>
<text x="2009" y="135" fill="#fff" textLength="38.3" lengthAdjust="spacingAndGlyphs">15.492</text>
<rect x="2005" y="177" width="47" height="1" fill="#00AEDC" shape-rendering="crispEdges"/>
<rect x="2005" y="178" width="47" height="14" fill="#404040" shape-rendering="crispEdges"/>
<text x="2009" y="190" fill="#fff" textLength="38.3" lengthAdjust="spacingAndGlyphs">14.950</text>
<rect x="2005" y="292" width="47" height="14" fill="#FF0000" shape-rendering="crispEdges"/>
<text x="2009" y="304" fill="#fff" textLength="38.3" lengthAdjust="spacingAndGlyphs">13.836</text>
<rect x="2005" y="520" width="47" height="14" fill="#FF0000" shape-rendering="crispEdges"/>
<text x="2009" y="532" fill="#fff" textLength="38.3" lengthAdjust="spacingAndGlyphs">11.609</text>
<rect x="2005" y="817" width="40" height="14" fill="#FF0000" shape-rendering="crispEdges"/>
<text x="2009" y="829" fill="#fff" textLength="31.6" lengthAdjust="spacingAndGlyphs">8.701</text>
<rect x="3.5" y="821" width="6" height="6" fill="#000" stroke="#FF0000" stroke-width="1" shape-rendering="crispEdges"/>
<rect x="1995.5" y="821" width="6" height="6" fill="#000" stroke="#FF0000" stroke-width="1" shape-rendering="crispEdges"/>
<g shape-rendering="crispEdges" stroke="#C0C0C0" stroke-width="1" stroke-dasharray="3 3">
<line x1="3" y1="1030.5" x2="2002" y2="1030.5"/>
<line x1="3" y1="1092.5" x2="2002" y2="1092.5"/>
</g>
<g shape-rendering="crispEdges">
<rect x="2003" y="1030" width="4" height="1" fill="#000"/>
<rect x="2003" y="1092" width="4" height="1" fill="#000"/>
</g>
<defs><clipPath id="rc"><rect x="3" y="876" width="1999" height="131"/></clipPath><clipPath id="sc"><rect x="3" y="1010" width="1999" height="103"/></clipPath></defs>
<g clip-path="url(#rc)">
<polyline fill="none" stroke="#383838" stroke-width="2" stroke-linejoin="round" shape-rendering="crispEdges" points="2.4,982.8 6.1,988.9 10.2,991.6 13.8,995.0 16.3,987.9 19.3,971.6 22.0,958.4 25.4,961.0 30.1,961.0 33.6,944.8 37.6,944.2 41.7,935.4 45.1,941.1 49.8,954.9 53.9,951.3 58.0,936.6 61.0,940.1 66.1,940.7 70.2,937.5 74.2,936.6 78.3,929.9 82.4,926.5 86.4,924.8 89.5,934.0 93.6,944.2 97.6,942.1 101.7,939.1 105.8,961.5 109.8,955.4 113.9,930.5 118.0,927.9 122.0,929.9 126.1,929.9 130.2,916.7 134.2,917.7 138.3,939.1 142.4,950.3 146.4,937.0 149.5,945.6 153.5,945.6 157.6,944.8 161.7,948.2 165.8,958.4 169.8,955.4 173.9,928.9 178.0,922.4 182.0,916.3 186.1,916.7 190.2,923.8 194.2,923.8 198.3,910.6 202.4,902.5 206.4,896.8 210.5,896.4 214.6,891.3 218.6,884.2 222.7,882.1 226.8,881.1 230.8,880.1 234.9,883.2 237.9,893.3 241.6,910.2 245.7,907.6 249.7,906.1 253.8,919.1 257.9,916.3 262.4,926.5 266.4,918.7 270.5,917.1 274.6,923.8 278.6,923.8 282.3,917.1 285.7,934.0 289.8,937.0 293.9,923.8 297.9,932.0 302.0,941.1 306.1,962.5 310.1,963.1 314.2,963.5 318.3,969.6 322.4,975.7 326.4,974.7 330.5,963.1 334.6,963.5 338.0,965.1 341.7,943.1 345.7,932.0 349.8,948.2 353.9,950.3 357.9,943.1 362.0,949.2 366.1,958.4 370.1,973.2 374.2,958.4 378.3,951.7 382.3,955.8 386.4,961.5 390.1,981.4 394.1,968.0 398.2,969.2 402.3,956.4 406.3,952.3 410.0,953.3 414.1,943.1 418.1,938.7 422.2,942.1 426.3,950.3 430.3,953.3 434.4,961.0 438.5,955.4 442.1,961.9 446.2,947.6 450.3,951.3 454.3,955.8 458.4,941.1 462.5,937.0 466.5,925.9 470.6,920.4 474.7,918.3 478.7,928.5 482.8,929.9 486.9,919.8 490.9,910.6 494.4,904.9 498.5,906.1 502.5,932.0 506.6,932.0 510.7,927.9 514.7,919.8 518.8,914.7 522.9,913.7 526.9,915.7 531.0,919.8 535.1,924.8 538.1,948.2 542.2,958.4 546.3,968.0 550.3,945.2 554.0,929.9 558.1,924.8 562.1,923.8 566.2,923.8 570.3,917.1 574.3,921.2 578.4,924.8 582.5,917.7 586.5,912.6 590.0,927.9 594.1,920.4 598.1,913.7 602.2,911.0 606.3,927.9 610.3,928.9 614.0,914.7 618.1,921.8 622.1,929.3 626.2,938.1 630.3,946.2 634.3,951.7 638.4,955.8 641.8,937.0 645.9,932.0 650.0,923.8 654.1,911.0 657.7,923.8 661.8,948.2 665.8,930.9 669.9,926.5 674.0,938.7 678.0,940.1 682.1,945.6 686.2,952.3 690.3,952.9 694.3,959.0 698.4,948.8 702.5,957.8 706.5,939.5 710.6,938.7 714.7,925.9 718.7,925.9 722.2,922.4 726.2,936.6 730.3,943.1 734.4,934.0 738.5,934.0 742.5,934.6 746.6,934.6 750.7,923.8 754.7,918.7 758.4,926.9 762.5,907.6 766.5,906.5 770.6,900.0 774.7,896.0 778.1,893.3 782.2,900.8 786.2,904.1 790.3,903.5 794.4,927.3 798.0,952.3 802.1,948.2 806.6,943.1 810.2,921.8 814.3,911.0 818.4,915.7 820.0,915.7 824.1,915.7 828.1,912.6 831.8,908.6 834.6,904.1 837.9,944.2 842.0,944.2 846.0,932.0 850.1,936.0 854.2,930.5 858.2,935.0 862.3,927.3 866.4,925.9 870.4,931.4 874.5,932.0 878.6,927.9 882.6,924.8 886.1,915.7 890.2,919.8 894.2,922.8 898.3,928.9 902.4,923.8 906.4,929.9 910.5,925.9 914.6,919.8 918.6,911.6 922.7,900.8 926.2,900.0 929.8,921.8 933.9,929.9 938.0,942.1 942.0,937.0 946.1,948.8 950.2,964.5 954.2,973.2 958.3,966.5 962.0,957.0 966.0,966.5 970.5,967.1 974.6,960.4 978.6,957.4 982.7,945.2 986.8,945.2 990.8,950.3 994.5,963.5 998.6,954.3 1002.0,973.7 1006.1,974.1 1010.2,954.9 1014.2,956.4 1018.3,960.4 1022.4,970.6 1026.4,971.6 1030.5,975.7 1034.6,969.6 1038.6,965.1 1042.7,964.5 1046.2,963.9 1050.2,971.2 1054.3,956.4 1058.4,949.2 1062.4,943.1 1066.5,936.6 1070.2,955.4 1074.2,950.9 1078.3,956.4 1082.4,954.3 1086.4,953.7 1090.5,957.0 1094.6,957.0 1098.2,942.1 1102.3,927.9 1106.4,933.4 1110.4,924.8 1113.9,923.2 1117.9,937.0 1122.0,929.9 1126.1,927.9 1130.1,916.7 1134.2,913.7 1138.3,910.6 1142.4,902.1 1146.0,924.8 1150.1,920.8 1154.1,919.8 1157.6,916.3 1161.7,933.0 1165.7,942.1 1170.2,948.8 1173.9,928.9 1177.9,923.8 1182.0,930.5 1186.1,945.6 1190.1,951.3 1194.2,942.1 1197.9,940.1 1201.9,948.2 1206.0,949.2 1210.1,962.5 1214.1,971.2 1218.2,965.5 1222.3,969.6 1226.3,969.6 1230.0,963.5 1234.1,975.7 1238.1,975.7 1242.2,963.5 1246.3,953.7 1250.3,954.9 1254.4,950.3 1258.5,937.0 1262.5,925.9 1266.2,918.7 1270.3,926.9 1274.3,923.8 1278.4,934.0 1282.5,944.2 1286.5,945.6 1290.0,927.9 1294.1,932.0 1298.1,925.9 1302.2,930.9 1306.3,923.8 1310.3,915.7 1314.4,914.7 1318.1,912.2 1322.5,925.9 1326.6,925.9 1330.1,907.6 1334.1,908.6 1338.2,912.2 1341.9,907.6 1346.3,916.3 1350.4,912.6 1354.5,905.5 1358.1,904.9 1362.2,919.8 1366.3,930.9 1370.3,942.1 1374.4,937.5 1378.1,936.6 1382.1,928.5 1386.2,923.8 1390.3,939.1 1394.3,945.2 1398.4,959.8 1402.5,925.9 1406.5,924.8 1410.6,920.4 1414.1,917.1 1418.1,927.9 1422.2,921.8 1426.3,915.7 1430.3,919.8 1434.4,927.3 1438.5,929.9 1442.5,939.1 1446.2,950.9 1450.3,950.3 1454.3,950.3 1458.4,947.6 1462.5,940.1 1465.9,938.1 1470.0,948.2 1474.1,957.0 1478.1,945.2 1482.2,933.0 1486.3,919.8 1490.3,918.7 1494.0,916.3 1498.0,908.2 1502.1,918.7 1506.2,921.8 1510.3,932.0 1514.3,932.0 1517.8,953.7 1521.8,937.0 1525.9,922.4 1530.0,937.0 1534.0,939.1 1537.7,941.1 1542.2,933.4 1546.2,933.0 1550.3,939.5 1554.4,933.0 1558.5,923.2 1562.5,922.8 1566.6,915.7 1570.2,911.0 1574.3,927.3 1577.8,943.1 1581.8,938.1 1585.9,932.0 1590.0,937.0 1594.0,942.1 1598.1,947.2 1602.2,965.1 1606.2,969.2 1610.3,975.7 1614.4,959.4 1618.0,943.1 1622.1,943.6 1626.2,923.8 1630.2,924.4 1634.3,919.8 1638.4,925.9 1642.4,943.6"/>
</g>
<g clip-path="url(#sc)">
<polyline fill="none" stroke="#383838" stroke-width="2" stroke-linejoin="round" shape-rendering="crispEdges" points="2.4,1106.7 6.1,1107.7 10.2,1108.1 14.2,1107.7 18.3,1103.6 22.4,1089.4 26.4,1076.2 30.5,1067.0 34.6,1054.8 38.6,1034.5 42.7,1025.3 46.8,1025.3 50.8,1046.7 54.5,1065.0 58.0,1069.0 62.0,1060.9 66.1,1055.8 70.2,1057.9 74.2,1058.5 78.3,1044.6 82.4,1030.4 86.4,1025.3 90.5,1028.4 94.6,1046.7 98.2,1059.9 102.3,1066.0 106.4,1081.2 110.4,1088.0 114.5,1077.2 118.0,1049.7 121.6,1028.4 125.1,1020.2 129.1,1015.2 133.2,1016.2 138.3,1026.3 142.4,1046.7 146.4,1066.0 150.1,1082.3 154.6,1087.4 158.6,1095.9 162.7,1091.0 166.8,1090.4 170.8,1089.4 174.5,1075.1 178.6,1044.6 182.0,1018.6 186.1,1022.7 190.2,1026.3 194.2,1032.0 198.3,1030.8 202.4,1027.4 206.4,1019.2 210.5,1016.6 214.6,1014.1 218.6,1017.8 222.7,1016.2 226.8,1015.8 230.8,1014.1 234.9,1018.2 239.0,1021.3 243.0,1028.4 247.1,1036.5 251.2,1040.6 255.2,1043.6 258.7,1045.7 262.4,1059.3 266.4,1053.8 270.5,1047.7 274.6,1041.0 278.6,1040.6 282.7,1036.9 286.8,1038.1 290.8,1044.6 294.9,1051.8 299.0,1055.8 303.0,1060.9 306.7,1086.3 310.8,1094.5 314.8,1097.1 318.9,1098.5 323.0,1101.6 327.0,1101.6 331.1,1096.5 335.2,1091.4 339.2,1082.9 342.7,1067.0 346.3,1045.7 350.2,1036.1 354.3,1046.7 358.3,1055.8 362.4,1060.9 366.5,1073.1 370.1,1097.9 374.2,1096.5 378.3,1087.4 382.3,1075.1 386.4,1076.2 390.1,1093.5 394.1,1095.5 398.2,1096.5 402.3,1083.3 406.3,1076.2 410.0,1067.0 414.1,1054.8 418.1,1041.6 422.2,1028.8 426.3,1037.5 430.3,1056.8 434.4,1078.2 438.5,1097.5 442.1,1105.7 446.2,1095.5 450.3,1091.4 454.3,1082.3 458.4,1069.0 462.5,1050.7 465.9,1025.3 470.0,1016.2 474.1,1015.2 478.1,1020.2 482.8,1025.3 486.9,1025.3 490.9,1021.9 494.4,1015.8 498.5,1018.2 502.5,1032.4 506.2,1048.7 510.1,1061.9 514.1,1052.8 518.2,1036.5 522.3,1024.7 526.3,1021.9 530.4,1025.3 534.5,1038.5 538.1,1062.9 542.2,1085.3 546.3,1098.5 550.3,1090.4 554.4,1069.0 558.1,1046.7 562.1,1031.4 566.2,1025.3 570.3,1021.3 574.3,1018.6 578.4,1018.6 582.5,1021.9 586.5,1021.9 590.6,1035.5 594.7,1041.6 598.1,1043.6 602.2,1026.7 606.3,1033.5 610.3,1047.7 614.4,1048.7 618.5,1042.6 622.1,1036.5 626.2,1055.8 630.3,1079.2 633.7,1099.6 637.8,1098.5 641.8,1077.2 645.9,1058.9 650.0,1041.6 654.1,1028.0 658.1,1034.5 662.2,1051.8 666.3,1061.3 670.3,1059.9 674.0,1054.8 678.0,1058.9 682.1,1073.1 686.2,1084.3 690.3,1091.4 694.3,1097.1 698.4,1092.4 702.5,1099.6 706.5,1087.4 710.6,1078.2 714.0,1041.6 718.1,1032.4 722.2,1021.3 726.2,1032.4 730.3,1044.6 734.4,1052.8 738.5,1055.8 742.5,1056.4 746.2,1064.0 750.2,1056.8 754.3,1042.6 758.4,1033.5 762.5,1025.3 766.5,1020.2 770.0,1013.7 774.0,1013.1 778.1,1012.1 782.2,1017.2 786.2,1024.3 790.3,1032.4 794.4,1042.6 798.4,1062.9 802.5,1084.9 806.2,1091.4 810.2,1071.1 814.3,1044.6 818.4,1022.7 820.0,1021.3 823.1,1018.2 827.1,1020.6 831.2,1020.6 834.2,1018.6 838.3,1028.4 842.4,1050.7 846.4,1071.1 850.5,1070.1 854.2,1055.8 858.2,1057.9 862.3,1047.7 866.4,1039.6 870.4,1032.0 874.5,1035.5 878.6,1042.2 882.6,1040.6 886.1,1028.8 890.2,1024.3 894.2,1024.3 898.3,1038.5 902.4,1046.7 906.4,1054.8 910.5,1054.8 914.6,1051.8 918.2,1036.5 922.3,1021.9 926.2,1015.2 930.2,1025.3 934.3,1041.6 938.4,1060.9 942.0,1070.1 946.1,1082.3 950.2,1095.5 954.2,1106.7 958.3,1106.7 962.4,1101.2 966.4,1099.6 970.5,1099.6 974.6,1100.6 978.6,1095.5 982.7,1077.2 986.4,1054.8 990.4,1037.5 994.5,1057.9 998.6,1075.1 1002.0,1099.6 1006.1,1102.0 1010.2,1098.5 1014.2,1089.4 1018.3,1084.3 1022.4,1093.0 1026.4,1098.5 1030.5,1103.2 1034.6,1102.0 1038.6,1099.6 1042.7,1092.4 1046.4,1087.4 1050.4,1090.4 1054.5,1086.3 1058.6,1073.1 1062.0,1034.5 1066.1,1022.7 1070.2,1042.6 1074.2,1054.8 1077.9,1078.2 1081.9,1080.2 1086.0,1085.3 1090.1,1087.8 1094.2,1087.8 1098.2,1081.2 1102.3,1053.8 1106.4,1028.4 1110.4,1017.2 1114.5,1023.3 1118.6,1031.4 1122.6,1036.5 1126.1,1038.5 1130.1,1028.4 1134.2,1021.3 1138.3,1015.2 1142.4,1015.2 1146.4,1023.9 1150.5,1028.4 1154.1,1035.5 1158.2,1029.4 1162.3,1036.5 1166.3,1056.8 1170.2,1082.9 1174.3,1073.1 1178.3,1053.8 1182.4,1036.5 1186.5,1045.7 1190.1,1072.1 1194.2,1080.8 1198.3,1079.6 1202.3,1082.3 1206.4,1093.5 1210.5,1101.2 1214.5,1103.2 1218.6,1100.6 1222.7,1100.0 1226.8,1100.0 1230.0,1100.0 1234.1,1100.0 1238.1,1098.5 1242.2,1093.5 1246.3,1079.2 1250.3,1061.9 1254.4,1053.8 1258.5,1041.6 1262.5,1028.4 1266.2,1016.6 1270.3,1019.8 1274.3,1023.3 1278.4,1031.4 1282.5,1040.6 1286.5,1059.9 1290.6,1059.9 1294.7,1054.8 1298.1,1036.9 1302.2,1038.5 1306.3,1030.0 1310.3,1028.0 1314.0,1022.7 1318.1,1020.6 1322.1,1023.3 1326.2,1030.8 1330.3,1032.0 1334.3,1025.9 1338.4,1023.9 1342.5,1025.3 1346.5,1027.4 1350.6,1023.3 1354.7,1022.7 1358.1,1020.6 1362.2,1025.3 1366.3,1046.7 1370.3,1071.1 1374.4,1082.3 1378.1,1086.9 1382.1,1076.2 1386.2,1064.0 1390.3,1059.9 1394.3,1068.0 1398.0,1089.0 1402.1,1067.0 1406.1,1052.8 1410.2,1026.3 1414.3,1024.3 1418.3,1022.3 1422.4,1021.9 1426.5,1021.3 1430.5,1018.6 1434.6,1022.7 1438.7,1038.5 1442.7,1060.9 1446.8,1081.2 1450.3,1097.1 1453.7,1100.0 1457.8,1094.5 1461.8,1080.2 1465.9,1069.0 1470.0,1064.0 1474.1,1071.1 1478.1,1077.2 1482.2,1065.0 1485.8,1036.1 1489.9,1026.3 1494.0,1025.9 1498.0,1021.9 1502.1,1022.7 1506.2,1027.4 1510.3,1038.5 1514.3,1048.7 1518.4,1069.0 1522.5,1082.9 1526.1,1067.0 1530.2,1054.4 1534.3,1053.8 1538.3,1069.0 1542.4,1067.0 1546.5,1057.9 1550.5,1052.8 1554.6,1050.3 1558.7,1043.6 1562.7,1030.4 1566.8,1018.2 1570.9,1015.8 1574.9,1019.2 1579.0,1036.5 1583.1,1051.8 1587.1,1058.9 1591.2,1059.3 1595.3,1067.0 1599.3,1086.3 1602.8,1101.6 1606.9,1107.7 1610.9,1110.1 1615.0,1101.6 1619.1,1087.4 1623.1,1071.1 1626.6,1044.6 1630.7,1030.4 1634.3,1017.8 1638.4,1021.9 1642.4,1032.4"/>
<polyline fill="none" stroke="#5590EE" stroke-width="2" stroke-linejoin="round" shape-rendering="crispEdges" points="2.4,1101.6 6.1,1105.2 10.2,1107.7 14.2,1108.1 18.3,1106.7 22.4,1101.6 26.4,1090.4 30.5,1078.2 34.6,1066.0 38.6,1051.8 42.7,1035.5 45.8,1027.4 49.8,1028.4 53.9,1043.6 58.0,1058.5 62.0,1064.0 66.1,1061.3 70.2,1058.5 74.2,1057.9 78.3,1054.8 82.4,1044.6 86.4,1033.5 90.5,1027.4 94.6,1033.5 98.6,1045.7 102.7,1056.8 106.8,1069.0 110.8,1078.2 113.9,1082.3 118.0,1074.1 122.0,1053.8 126.1,1034.5 130.2,1023.3 135.2,1020.2 141.3,1029.4 145.4,1044.6 149.5,1061.9 153.5,1076.2 157.6,1086.3 161.7,1091.0 165.8,1093.0 169.8,1091.4 173.9,1085.3 178.0,1070.1 182.0,1045.7 186.1,1027.4 190.2,1022.7 194.2,1026.7 198.3,1029.4 202.4,1028.8 206.4,1025.3 210.5,1020.6 214.6,1016.6 218.6,1015.8 222.7,1016.2 226.8,1015.8 230.8,1015.2 234.9,1015.2 239.0,1017.8 243.0,1022.3 247.1,1028.8 251.2,1035.5 255.2,1040.6 259.3,1043.6 263.4,1049.7 267.4,1053.2 271.5,1053.2 275.6,1047.7 279.6,1043.0 283.7,1039.6 287.8,1038.5 291.8,1039.6 295.9,1044.6 300.0,1050.7 304.0,1057.9 308.1,1071.1 312.2,1084.3 316.2,1093.5 320.3,1097.1 324.4,1099.6 328.5,1100.6 332.5,1099.1 336.6,1095.5 340.7,1089.4 344.7,1076.2 348.8,1059.9 352.9,1045.7 356.9,1043.0 361.0,1049.7 365.1,1057.9 369.1,1068.0 373.2,1084.3 377.3,1093.0 381.3,1087.4 385.4,1079.6 389.5,1081.7 393.5,1088.4 397.6,1094.5 401.7,1093.5 405.7,1087.4 410.0,1078.2 414.1,1068.0 418.1,1054.8 422.2,1042.6 426.3,1036.5 430.3,1040.6 434.4,1056.8 438.5,1077.2 442.5,1092.4 446.2,1099.1 450.3,1097.5 454.3,1090.4 458.4,1081.2 462.5,1067.0 466.5,1047.7 470.6,1030.4 474.7,1018.6 478.7,1017.2 482.8,1020.2 486.9,1023.9 490.9,1023.9 495.0,1021.3 499.1,1019.2 502.5,1021.9 506.6,1034.5 510.7,1047.7 514.7,1054.4 518.8,1049.7 522.9,1037.5 526.9,1027.4 531.0,1023.9 535.1,1029.4 539.1,1043.6 543.2,1064.0 547.3,1082.3 550.7,1091.0 554.8,1084.3 558.9,1068.0 562.9,1048.7 567.0,1034.5 571.1,1025.9 575.1,1021.9 579.2,1019.8 583.3,1019.8 586.9,1021.3 591.0,1027.4 595.1,1034.1 598.7,1039.6 602.8,1036.9 606.9,1034.9 610.3,1036.5 614.4,1042.6 618.5,1045.7 622.5,1043.0 626.6,1045.7 630.7,1058.9 634.7,1078.2 638.8,1091.4 642.3,1092.4 646.3,1078.2 650.4,1058.9 654.5,1042.6 658.5,1035.5 662.6,1038.5 666.7,1049.7 670.7,1057.9 674.8,1057.9 678.9,1058.9 682.9,1065.0 687.0,1074.1 691.1,1083.3 695.1,1091.4 699.2,1093.9 703.3,1095.9 707.3,1092.4 711.4,1084.3 715.1,1067.0 719.1,1049.7 723.2,1032.0 727.3,1028.0 731.3,1033.5 735.4,1043.6 739.5,1051.8 743.5,1055.8 747.6,1059.3 751.7,1058.9 755.7,1052.8 759.8,1043.6 763.9,1033.5 767.9,1026.3 772.0,1019.8 776.1,1015.2 779.1,1013.1 783.2,1014.1 787.3,1018.2 791.3,1025.3 795.4,1033.5 799.5,1045.7 803.5,1064.0 807.6,1081.2 810.2,1082.9 814.3,1070.1 818.4,1046.7 820.0,1041.6 823.1,1027.4 827.1,1020.6 831.2,1020.2 835.3,1020.6 839.3,1027.4 843.4,1042.6 847.5,1057.9 850.5,1065.0 854.6,1065.4 858.6,1060.9 862.7,1053.8 866.8,1046.7 870.8,1039.6 874.9,1036.5 878.0,1036.5 882.0,1038.5 886.1,1036.9 890.2,1030.4 894.2,1025.9 898.3,1030.0 902.4,1038.5 906.4,1047.7 910.5,1053.2 914.6,1053.8 918.6,1047.7 922.7,1036.5 926.8,1024.7 930.8,1021.3 934.9,1028.0 939.0,1044.6 943.0,1059.9 947.1,1073.1 951.2,1085.3 955.2,1097.5 959.3,1105.2 963.4,1104.6 967.4,1101.6 971.5,1100.6 975.6,1100.0 979.7,1097.5 983.7,1086.3 987.8,1068.0 991.9,1054.4 995.3,1051.1 999.4,1056.8 1003.0,1076.2 1006.7,1093.5 1010.8,1100.0 1014.8,1095.5 1018.9,1089.8 1023.0,1089.0 1027.0,1092.4 1031.1,1099.1 1035.2,1101.2 1039.2,1101.2 1043.3,1096.5 1047.4,1091.4 1051.4,1089.8 1055.5,1086.9 1059.6,1079.2 1063.6,1058.9 1067.1,1040.6 1070.6,1032.8 1074.6,1038.5 1078.7,1055.8 1082.8,1071.1 1086.8,1081.2 1090.9,1085.7 1095.0,1087.4 1099.0,1084.3 1103.1,1069.0 1107.2,1047.7 1111.2,1029.4 1114.9,1022.7 1119.0,1024.7 1123.0,1031.4 1127.1,1035.5 1131.2,1034.1 1135.2,1027.4 1139.3,1021.3 1143.4,1018.2 1147.4,1019.2 1151.5,1024.3 1155.6,1030.0 1159.6,1031.4 1163.7,1035.5 1167.8,1045.7 1171.4,1064.0 1174.9,1072.1 1179.0,1071.1 1183.0,1056.8 1187.1,1046.7 1191.2,1051.8 1195.2,1067.0 1199.3,1078.2 1203.4,1080.8 1207.4,1083.3 1211.5,1092.4 1215.6,1099.6 1219.6,1100.6 1223.7,1100.0 1227.8,1099.6 1230.0,1099.6 1234.1,1099.6 1238.1,1099.1 1242.2,1096.5 1246.3,1089.4 1250.3,1075.1 1254.4,1061.9 1258.5,1050.7 1262.5,1038.5 1266.6,1027.4 1270.7,1020.6 1274.7,1019.8 1278.8,1024.3 1282.9,1032.4 1286.9,1044.6 1291.0,1054.4 1294.1,1057.9 1298.1,1051.8 1302.2,1043.6 1306.3,1036.5 1310.3,1032.0 1314.4,1026.7 1318.5,1023.3 1322.5,1022.7 1326.6,1025.3 1330.7,1028.8 1334.7,1029.4 1338.8,1027.4 1342.9,1025.3 1346.9,1025.3 1351.0,1024.7 1355.1,1023.9 1359.1,1022.3 1363.2,1024.7 1367.3,1033.5 1371.3,1048.7 1375.4,1067.0 1379.5,1080.2 1382.5,1082.3 1386.6,1075.1 1390.7,1066.6 1394.3,1064.0 1398.4,1070.7 1402.5,1074.1 1406.5,1067.0 1410.6,1045.7 1414.7,1031.4 1418.7,1024.3 1422.8,1023.3 1426.9,1022.3 1430.9,1020.6 1435.0,1019.8 1439.1,1027.4 1443.1,1040.6 1447.2,1060.9 1451.3,1080.2 1455.3,1093.5 1458.8,1095.5 1462.9,1088.4 1466.9,1077.2 1471.0,1069.5 1475.1,1069.0 1479.1,1071.5 1482.6,1071.1 1486.7,1057.9 1490.7,1041.6 1494.8,1030.0 1498.9,1024.7 1502.9,1023.9 1507.0,1024.7 1511.1,1030.4 1515.1,1040.2 1519.2,1054.8 1523.3,1070.1 1526.5,1075.1 1530.6,1067.0 1534.7,1058.9 1538.7,1059.3 1542.8,1064.0 1546.9,1064.0 1550.9,1059.3 1555.0,1054.4 1559.1,1048.7 1563.1,1041.0 1567.2,1030.4 1571.3,1021.3 1574.7,1018.2 1578.8,1024.3 1582.9,1037.5 1586.9,1050.3 1591.0,1056.4 1595.1,1061.9 1599.1,1073.1 1603.2,1087.4 1607.3,1099.6 1611.3,1106.7 1615.0,1106.7 1619.1,1097.5 1623.1,1082.3 1627.2,1065.0 1631.3,1044.6 1635.3,1029.4 1638.8,1023.3 1642.4,1022.7"/>
</g>
<rect x="4" y="878" width="466" height="15.6" fill="#fff"/>
<rect x="4" y="1011" width="146" height="16.4" fill="#fff"/>
<text x="5.5" y="891" textLength="464" lengthAdjust="spacingAndGlyphs">RSI(8) 48.58 Bands(233) 54.383 83.305 25.461 Bands(233) 54.383 88.511 20.255</text>
<text x="5.5" y="1025" textLength="143" lengthAdjust="spacingAndGlyphs">Stoch(8,3,3) 78.15 86.41</text>
<g clip-path="url(#rc)">
<polyline fill="none" stroke="#FF7848" stroke-width="2" stroke-linejoin="round" shape-rendering="crispEdges" points="3.0,886.2 40.7,884.6 81.4,883.8 142.4,883.6 183.0,883.4 203.4,883.2 223.7,879.7 237.9,878.1 264.4,879.1 305.1,880.7 345.7,881.5 408.4,882.1 495.4,881.4 511.7,880.7 536.1,883.8 562.5,887.8 603.2,888.2 633.7,886.8 715.1,886.8 755.7,886.6 786.2,883.8 818.4,883.7 840.3,882.5 911.5,882.5 925.8,883.2 942.0,885.8 972.5,885.8 992.9,884.2 1023.4,884.2 1033.5,883.6 1125.1,883.6 1145.4,885.8 1165.7,889.3 1186.1,891.3 1216.6,891.9 1228.4,891.3 1254.4,891.9 1266.6,891.3 1331.7,890.3 1352.0,888.6 1368.3,888.2 1443.5,888.6 1453.7,889.9 1524.9,889.9 1535.1,890.7 1606.2,890.7 1616.4,889.9 1642.4,889.9"/>
<polyline fill="none" stroke="#5590EE" stroke-width="2" stroke-linejoin="round" shape-rendering="crispEdges" points="3.0,891.2 20.3,893.3 61.0,892.7 122.0,892.3 162.7,892.7 203.4,891.3 223.7,888.6 244.1,887.2 284.7,888.2 325.4,889.3 366.1,889.5 411.0,890.1 471.0,891.3 487.3,889.9 521.9,889.9 542.2,892.7 562.5,896.0 593.0,896.0 633.7,894.3 674.4,893.9 735.4,894.3 765.9,894.7 786.2,892.3 818.4,892.1 860.7,891.9 870.8,890.7 921.7,890.7 942.0,892.7 992.9,892.7 1023.4,892.3 1053.9,891.3 1125.1,891.7 1145.4,893.3 1165.7,896.4 1186.1,898.0 1206.4,898.8 1228.4,898.8 1250.3,898.4 1266.6,898.4 1331.7,896.8 1352.0,895.4 1368.3,895.0 1388.6,894.7 1402.9,896.0 1417.1,894.7 1443.5,895.4 1453.7,896.8 1524.9,896.8 1535.1,898.0 1565.6,898.0 1575.7,896.8 1585.9,898.0 1606.2,898.0 1616.4,896.8 1642.4,896.8"/>
<polyline fill="none" stroke="#FF7848" stroke-width="2" stroke-linejoin="round" shape-rendering="crispEdges" points="3.0,938.1 40.7,937.7 81.4,937.5 122.0,936.6 162.7,936.0 203.4,934.6 229.8,933.0 264.4,933.0 305.1,934.0 345.7,935.4 386.4,936.6 408.4,937.0 440.5,938.1 491.4,937.5 552.4,938.7 613.4,939.1 654.1,938.1 715.1,938.1 755.7,937.5 796.4,936.6 818.4,936.8 860.7,936.6 901.4,934.6 931.9,933.0 952.2,932.4 1003.0,933.4 1043.7,934.6 1084.4,935.0 1125.1,935.0 1165.7,936.6 1206.4,938.1 1228.4,938.9 1254.4,938.7 1291.0,937.5 1341.9,934.6 1372.4,934.0 1433.4,934.0 1453.7,934.6 1514.7,934.6 1596.1,935.0 1606.2,936.0 1616.4,936.0 1642.4,934.6"/>
<polyline fill="none" stroke="#5590EE" stroke-width="2" stroke-linejoin="round" shape-rendering="crispEdges" points="3.0,981.3 30.5,985.5 61.0,983.8 101.7,982.8 142.4,979.8 183.0,979.8 203.4,978.7 221.7,977.7 244.1,979.3 284.7,978.1 305.1,978.7 325.4,979.8 366.1,981.8 408.4,984.0 471.0,984.8 521.9,983.8 562.5,982.2 613.4,982.2 654.1,981.4 715.1,980.2 765.9,979.8 776.1,980.8 818.4,981.1 832.2,981.8 860.7,981.8 881.0,980.8 911.5,978.1 931.9,974.7 948.1,972.0 962.4,972.0 992.9,973.0 1013.2,975.3 1033.5,977.3 1053.9,978.1 1084.4,978.7 1104.7,978.1 1165.7,976.7 1206.4,977.3 1228.4,978.5 1250.3,978.7 1291.0,976.7 1331.7,974.1 1372.4,973.2 1514.7,973.2 1596.1,973.2 1606.2,974.1 1626.6,974.1 1642.4,973.0"/>
<polyline fill="none" stroke="#FF7848" stroke-width="2" stroke-linejoin="round" shape-rendering="crispEdges" points="3.0,988.4 20.3,993.0 50.8,992.4 81.4,990.9 122.0,988.9 142.4,987.9 183.0,987.9 213.5,985.9 244.1,986.9 284.7,985.5 305.1,986.9 345.7,989.9 386.4,991.6 408.4,991.6 434.4,993.0 471.0,992.6 511.7,991.6 562.5,989.5 626.6,989.9 674.4,988.3 715.1,987.9 765.9,987.9 818.4,989.5 860.7,989.5 881.0,988.3 911.5,985.5 931.9,982.8 948.1,979.3 962.4,978.7 992.9,979.8 1013.2,982.8 1043.7,985.5 1074.2,985.9 1145.4,985.5 1165.7,983.8 1196.2,983.8 1228.4,985.7 1256.4,985.5 1291.0,983.8 1331.7,980.8 1372.4,979.8 1390.7,979.2 1565.6,979.8 1575.7,978.7 1589.0,979.2 1606.2,980.8 1626.6,980.8 1642.4,979.8"/>
</g>
<text x="2008.1" y="887" fill="#000" textLength="37.6" lengthAdjust="spacingAndGlyphs">100.00</text>
<text x="2008.1" y="1005" fill="#000" textLength="24.5" lengthAdjust="spacingAndGlyphs">0.00</text>
<text x="2008.1" y="1021" fill="#000" textLength="37.6" lengthAdjust="spacingAndGlyphs">100.00</text>
<text x="2008.1" y="1035" fill="#000" textLength="31" lengthAdjust="spacingAndGlyphs">80.00</text>
<text x="2008.1" y="1097" fill="#000" textLength="31" lengthAdjust="spacingAndGlyphs">20.00</text>
<text x="2008.1" y="1111" fill="#000" textLength="24.5" lengthAdjust="spacingAndGlyphs">0.00</text>
<text x="7.5" y="16" fill="#000" textLength="180" lengthAdjust="spacingAndGlyphs" style="white-space:pre">REP.MC, Daily:  Repsol YPF (CFD)</text>
<g shape-rendering="crispEdges">
<rect x="2" y="1113" width="1" height="5" fill="#000"/>
<rect x="130" y="1113" width="1" height="5" fill="#000"/>
<rect x="258" y="1113" width="1" height="5" fill="#000"/>
<rect x="386" y="1113" width="1" height="5" fill="#000"/>
<rect x="514" y="1113" width="1" height="5" fill="#000"/>
<rect x="642" y="1113" width="1" height="5" fill="#000"/>
<rect x="770" y="1113" width="1" height="5" fill="#000"/>
<rect x="898" y="1113" width="1" height="5" fill="#000"/>
<rect x="1026" y="1113" width="1" height="5" fill="#000"/>
<rect x="1154" y="1113" width="1" height="5" fill="#000"/>
<rect x="1282" y="1113" width="1" height="5" fill="#000"/>
<rect x="1410" y="1113" width="1" height="5" fill="#000"/>
<rect x="1538" y="1113" width="1" height="5" fill="#000"/>
</g>
<text x="2.6" y="1128.6" fill="#000" textLength="62" lengthAdjust="spacingAndGlyphs">14 Jul 2021</text>
<text x="130.6" y="1128.6" fill="#000" textLength="70" lengthAdjust="spacingAndGlyphs">27 Aug 2021</text>
<text x="258.6" y="1128.6" fill="#000" textLength="68" lengthAdjust="spacingAndGlyphs">12 Oct 2021</text>
<text x="386.6" y="1128.6" fill="#000" textLength="69.5" lengthAdjust="spacingAndGlyphs">25 Nov 2021</text>
<text x="514.6" y="1128.6" fill="#000" textLength="67.5" lengthAdjust="spacingAndGlyphs">12 Jan 2022</text>
<text x="642.6" y="1128.6" fill="#000" textLength="69.5" lengthAdjust="spacingAndGlyphs">25 Feb 2022</text>
<text x="770.6" y="1128.6" fill="#000" textLength="68" lengthAdjust="spacingAndGlyphs">12 Apr 2022</text>
<text x="898.6" y="1128.6" fill="#000" textLength="70.5" lengthAdjust="spacingAndGlyphs">30 May 2022</text>
<text x="1026.6" y="1128.6" fill="#000" textLength="63.5" lengthAdjust="spacingAndGlyphs">13 Jul 2022</text>
<text x="1154.6" y="1128.6" fill="#000" textLength="71" lengthAdjust="spacingAndGlyphs">26 Aug 2022</text>
<text x="1282.6" y="1128.6" fill="#000" textLength="69" lengthAdjust="spacingAndGlyphs">11 Oct 2022</text>
<text x="1410.6" y="1128.6" fill="#000" textLength="70" lengthAdjust="spacingAndGlyphs">24 Nov 2022</text>
<text x="1538.6" y="1128.6" fill="#000" textLength="67" lengthAdjust="spacingAndGlyphs">11 Jan 2023</text>
</svg>
</body></html>
